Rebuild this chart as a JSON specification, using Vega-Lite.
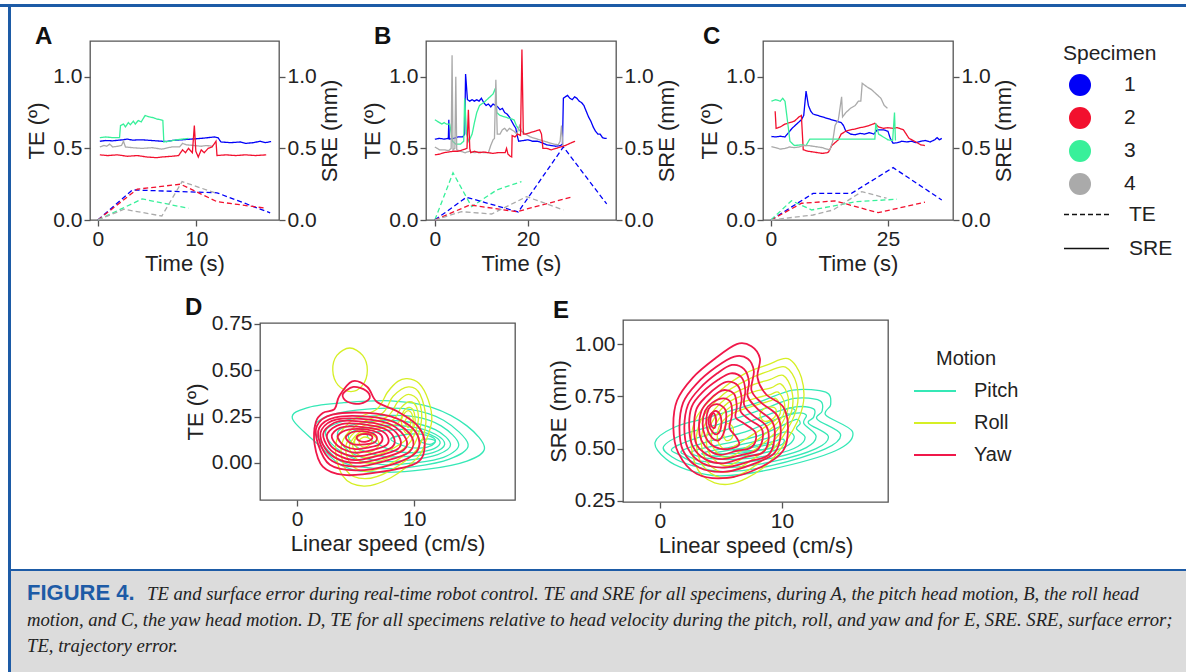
{
"$schema": "https://vega.github.io/schema/vega-lite/v6.json",
"padding": {"left": 0, "top": 4, "right": 0, "bottom": 0},
"background": "white",
"config": {
  "font": "Liberation Sans",
  "view": {"stroke": "#555555", "strokeWidth": 1.3},
  "axis": {"grid": false, "domain": false, "tickColor": "#555555", "tickWidth": 1.3, "tickSize": 6, "labelFontSize": 21, "labelColor": "#222222", "titleFontSize": 22, "titleFontWeight": "normal", "titleColor": "#222222", "labelPadding": 2, "titlePadding": 4, "labelFont": "Liberation Sans", "titleFont": "Liberation Sans", "labelFlush": false, "labelOverlap": false},
  "title": {"fontSize": 24, "fontWeight": "bold", "color": "#111111", "anchor": "start", "frame": "group", "offset": 0, "baseline": "alphabetic", "font": "Liberation Sans"},
  "legend": {"labelFont": "Liberation Sans", "titleFont": "Liberation Sans", "labelColor": "#222222", "titleColor": "#222222", "titleFontWeight": "normal", "labelFontSize": 21, "titleFontSize": 21, "padding": 0}
},
"datasets": {
  "ts": [
    {"p":"A","k":"TE","s":"1","t":0,"v":0},{"p":"A","k":"TE","s":"1","t":3.5,"v":0.21},{"p":"A","k":"TE","s":"1","t":12.1,"v":0.19},{"p":"A","k":"TE","s":"1","t":17.5,"v":0.05},
    {"p":"A","k":"TE","s":"2","t":0,"v":0},{"p":"A","k":"TE","s":"2","t":4.0,"v":0.215},{"p":"A","k":"TE","s":"2","t":8.4,"v":0.25},{"p":"A","k":"TE","s":"2","t":12.1,"v":0.128},{"p":"A","k":"TE","s":"2","t":17.1,"v":0.082},
    {"p":"A","k":"TE","s":"3","t":0,"v":0},{"p":"A","k":"TE","s":"3","t":4.5,"v":0.147},{"p":"A","k":"TE","s":"3","t":9.2,"v":0.082},
    {"p":"A","k":"TE","s":"4","t":0,"v":0},{"p":"A","k":"TE","s":"4","t":2.66,"v":0.075},{"p":"A","k":"TE","s":"4","t":6.5,"v":0.028},{"p":"A","k":"TE","s":"4","t":8.55,"v":0.268},{"p":"A","k":"TE","s":"4","t":11.9,"v":0.19},
    {"p":"A","k":"SRE","s":"1","t":0.2,"v":0.55},{"p":"A","k":"SRE","s":"1","t":0.8,"v":0.555},{"p":"A","k":"SRE","s":"1","t":1.5,"v":0.553},{"p":"A","k":"SRE","s":"1","t":2.5,"v":0.56},{"p":"A","k":"SRE","s":"1","t":3,"v":0.565},{"p":"A","k":"SRE","s":"1","t":3.5,"v":0.558},{"p":"A","k":"SRE","s":"1","t":4.5,"v":0.56},{"p":"A","k":"SRE","s":"1","t":5.5,"v":0.555},{"p":"A","k":"SRE","s":"1","t":6.5,"v":0.55},{"p":"A","k":"SRE","s":"1","t":7,"v":0.548},{"p":"A","k":"SRE","s":"1","t":7.5,"v":0.555},{"p":"A","k":"SRE","s":"1","t":8.5,"v":0.56},{"p":"A","k":"SRE","s":"1","t":9.5,"v":0.565},{"p":"A","k":"SRE","s":"1","t":10.5,"v":0.57},{"p":"A","k":"SRE","s":"1","t":11.2,"v":0.575},{"p":"A","k":"SRE","s":"1","t":11.8,"v":0.58},{"p":"A","k":"SRE","s":"1","t":12.2,"v":0.575},{"p":"A","k":"SRE","s":"1","t":12.5,"v":0.545},{"p":"A","k":"SRE","s":"1","t":13.5,"v":0.54},{"p":"A","k":"SRE","s":"1","t":14.5,"v":0.545},{"p":"A","k":"SRE","s":"1","t":15,"v":0.535},{"p":"A","k":"SRE","s":"1","t":15.8,"v":0.54},{"p":"A","k":"SRE","s":"1","t":16.5,"v":0.55},{"p":"A","k":"SRE","s":"1","t":17,"v":0.54},{"p":"A","k":"SRE","s":"1","t":17.6,"v":0.548},
    {"p":"A","k":"SRE","s":"3","t":0.2,"v":0.575},{"p":"A","k":"SRE","s":"3","t":0.8,"v":0.58},{"p":"A","k":"SRE","s":"3","t":1.5,"v":0.575},{"p":"A","k":"SRE","s":"3","t":2.2,"v":0.575},{"p":"A","k":"SRE","s":"3","t":2.3,"v":0.66},{"p":"A","k":"SRE","s":"3","t":2.6,"v":0.67},{"p":"A","k":"SRE","s":"3","t":2.8,"v":0.65},{"p":"A","k":"SRE","s":"3","t":3.1,"v":0.68},{"p":"A","k":"SRE","s":"3","t":3.3,"v":0.665},{"p":"A","k":"SRE","s":"3","t":3.6,"v":0.69},{"p":"A","k":"SRE","s":"3","t":3.8,"v":0.67},{"p":"A","k":"SRE","s":"3","t":4.1,"v":0.695},{"p":"A","k":"SRE","s":"3","t":4.4,"v":0.685},{"p":"A","k":"SRE","s":"3","t":4.8,"v":0.73},{"p":"A","k":"SRE","s":"3","t":5.2,"v":0.72},{"p":"A","k":"SRE","s":"3","t":5.6,"v":0.715},{"p":"A","k":"SRE","s":"3","t":6,"v":0.705},{"p":"A","k":"SRE","s":"3","t":6.4,"v":0.7},{"p":"A","k":"SRE","s":"3","t":6.6,"v":0.695},{"p":"A","k":"SRE","s":"3","t":6.7,"v":0.545},{"p":"A","k":"SRE","s":"3","t":7.2,"v":0.55},{"p":"A","k":"SRE","s":"3","t":8,"v":0.56},{"p":"A","k":"SRE","s":"3","t":8.6,"v":0.565},{"p":"A","k":"SRE","s":"3","t":9.2,"v":0.57},
    {"p":"A","k":"SRE","s":"4","t":0.2,"v":0.51},{"p":"A","k":"SRE","s":"4","t":0.6,"v":0.52},{"p":"A","k":"SRE","s":"4","t":0.9,"v":0.515},{"p":"A","k":"SRE","s":"4","t":1.2,"v":0.53},{"p":"A","k":"SRE","s":"4","t":1.5,"v":0.51},{"p":"A","k":"SRE","s":"4","t":2,"v":0.515},{"p":"A","k":"SRE","s":"4","t":2.4,"v":0.52},{"p":"A","k":"SRE","s":"4","t":2.6,"v":0.55},{"p":"A","k":"SRE","s":"4","t":2.8,"v":0.51},{"p":"A","k":"SRE","s":"4","t":3.5,"v":0.505},{"p":"A","k":"SRE","s":"4","t":4.5,"v":0.5},{"p":"A","k":"SRE","s":"4","t":5.5,"v":0.505},{"p":"A","k":"SRE","s":"4","t":6.5,"v":0.495},{"p":"A","k":"SRE","s":"4","t":7.5,"v":0.51},{"p":"A","k":"SRE","s":"4","t":8.3,"v":0.51},{"p":"A","k":"SRE","s":"4","t":8.6,"v":0.535},{"p":"A","k":"SRE","s":"4","t":9,"v":0.525},{"p":"A","k":"SRE","s":"4","t":9.8,"v":0.52},{"p":"A","k":"SRE","s":"4","t":10.5,"v":0.515},{"p":"A","k":"SRE","s":"4","t":11,"v":0.52},{"p":"A","k":"SRE","s":"4","t":11.7,"v":0.515},
    {"p":"A","k":"SRE","s":"2","t":0.2,"v":0.455},{"p":"A","k":"SRE","s":"2","t":1,"v":0.45},{"p":"A","k":"SRE","s":"2","t":2,"v":0.455},{"p":"A","k":"SRE","s":"2","t":3,"v":0.445},{"p":"A","k":"SRE","s":"2","t":4,"v":0.45},{"p":"A","k":"SRE","s":"2","t":5,"v":0.44},{"p":"A","k":"SRE","s":"2","t":6,"v":0.435},{"p":"A","k":"SRE","s":"2","t":6.5,"v":0.44},{"p":"A","k":"SRE","s":"2","t":7.5,"v":0.445},{"p":"A","k":"SRE","s":"2","t":8.2,"v":0.45},{"p":"A","k":"SRE","s":"2","t":8.6,"v":0.49},{"p":"A","k":"SRE","s":"2","t":8.9,"v":0.47},{"p":"A","k":"SRE","s":"2","t":9.2,"v":0.5},{"p":"A","k":"SRE","s":"2","t":9.6,"v":0.47},{"p":"A","k":"SRE","s":"2","t":9.8,"v":0.66},{"p":"A","k":"SRE","s":"2","t":9.95,"v":0.48},{"p":"A","k":"SRE","s":"2","t":10.2,"v":0.44},{"p":"A","k":"SRE","s":"2","t":10.5,"v":0.49},{"p":"A","k":"SRE","s":"2","t":10.8,"v":0.47},{"p":"A","k":"SRE","s":"2","t":11.2,"v":0.5},{"p":"A","k":"SRE","s":"2","t":11.6,"v":0.51},{"p":"A","k":"SRE","s":"2","t":12,"v":0.55},{"p":"A","k":"SRE","s":"2","t":12.1,"v":0.45},{"p":"A","k":"SRE","s":"2","t":13,"v":0.455},{"p":"A","k":"SRE","s":"2","t":14,"v":0.45},{"p":"A","k":"SRE","s":"2","t":15,"v":0.455},{"p":"A","k":"SRE","s":"2","t":16,"v":0.45},{"p":"A","k":"SRE","s":"2","t":17.1,"v":0.455},

    {"p":"B","k":"TE","s":"3","t":0,"v":0},{"p":"B","k":"TE","s":"3","t":3.9,"v":0.33},{"p":"B","k":"TE","s":"3","t":7.9,"v":0.093},{"p":"B","k":"TE","s":"3","t":13.3,"v":0.21},{"p":"B","k":"TE","s":"3","t":18.6,"v":0.268},
    {"p":"B","k":"TE","s":"1","t":0,"v":0},{"p":"B","k":"TE","s":"1","t":6.8,"v":0.159},{"p":"B","k":"TE","s":"1","t":17.9,"v":0.056},{"p":"B","k":"TE","s":"1","t":27.6,"v":0.51},{"p":"B","k":"TE","s":"1","t":36.9,"v":0.112},
    {"p":"B","k":"TE","s":"2","t":0,"v":0},{"p":"B","k":"TE","s":"2","t":7.5,"v":0.105},{"p":"B","k":"TE","s":"2","t":17.6,"v":0.058},{"p":"B","k":"TE","s":"2","t":29.7,"v":0.163},
    {"p":"B","k":"TE","s":"4","t":0,"v":0},{"p":"B","k":"TE","s":"4","t":5.7,"v":0.058},{"p":"B","k":"TE","s":"4","t":12.2,"v":0.042},{"p":"B","k":"TE","s":"4","t":19.7,"v":0.163},{"p":"B","k":"TE","s":"4","t":27.6,"v":0.07},
    {"p":"B","k":"SRE","s":"1","t":0,"v":0.564},{"p":"B","k":"SRE","s":"1","t":1,"v":0.57},{"p":"B","k":"SRE","s":"1","t":2,"v":0.565},{"p":"B","k":"SRE","s":"1","t":2.9,"v":0.57},{"p":"B","k":"SRE","s":"1","t":3.0,"v":0.7},{"p":"B","k":"SRE","s":"1","t":3.1,"v":0.565},{"p":"B","k":"SRE","s":"1","t":4,"v":0.57},{"p":"B","k":"SRE","s":"1","t":5,"v":0.58},{"p":"B","k":"SRE","s":"1","t":6,"v":0.58},{"p":"B","k":"SRE","s":"1","t":6.4,"v":0.6},{"p":"B","k":"SRE","s":"1","t":6.6,"v":1.02},{"p":"B","k":"SRE","s":"1","t":7.0,"v":0.84},{"p":"B","k":"SRE","s":"1","t":7.5,"v":0.83},{"p":"B","k":"SRE","s":"1","t":8,"v":0.84},{"p":"B","k":"SRE","s":"1","t":8.5,"v":0.83},{"p":"B","k":"SRE","s":"1","t":9,"v":0.84},{"p":"B","k":"SRE","s":"1","t":9.5,"v":0.83},{"p":"B","k":"SRE","s":"1","t":10,"v":0.85},{"p":"B","k":"SRE","s":"1","t":10.5,"v":0.82},{"p":"B","k":"SRE","s":"1","t":11,"v":0.8},{"p":"B","k":"SRE","s":"1","t":11.5,"v":0.81},{"p":"B","k":"SRE","s":"1","t":12,"v":0.79},{"p":"B","k":"SRE","s":"1","t":12.5,"v":0.81},{"p":"B","k":"SRE","s":"1","t":13,"v":0.8},{"p":"B","k":"SRE","s":"1","t":13.5,"v":0.79},{"p":"B","k":"SRE","s":"1","t":14,"v":0.77},{"p":"B","k":"SRE","s":"1","t":14.5,"v":0.78},{"p":"B","k":"SRE","s":"1","t":15,"v":0.75},{"p":"B","k":"SRE","s":"1","t":15.5,"v":0.74},{"p":"B","k":"SRE","s":"1","t":16,"v":0.72},{"p":"B","k":"SRE","s":"1","t":16.5,"v":0.69},{"p":"B","k":"SRE","s":"1","t":17,"v":0.66},{"p":"B","k":"SRE","s":"1","t":17.4,"v":0.64},{"p":"B","k":"SRE","s":"1","t":17.6,"v":0.6},{"p":"B","k":"SRE","s":"1","t":18,"v":0.55},{"p":"B","k":"SRE","s":"1","t":19,"v":0.555},{"p":"B","k":"SRE","s":"1","t":20,"v":0.56},{"p":"B","k":"SRE","s":"1","t":21,"v":0.55},{"p":"B","k":"SRE","s":"1","t":22,"v":0.55},{"p":"B","k":"SRE","s":"1","t":23,"v":0.54},{"p":"B","k":"SRE","s":"1","t":24,"v":0.525},{"p":"B","k":"SRE","s":"1","t":25,"v":0.52},{"p":"B","k":"SRE","s":"1","t":26,"v":0.515},{"p":"B","k":"SRE","s":"1","t":27,"v":0.52},{"p":"B","k":"SRE","s":"1","t":27.4,"v":0.53},{"p":"B","k":"SRE","s":"1","t":27.6,"v":0.85},{"p":"B","k":"SRE","s":"1","t":28,"v":0.86},{"p":"B","k":"SRE","s":"1","t":28.5,"v":0.87},{"p":"B","k":"SRE","s":"1","t":29,"v":0.85},{"p":"B","k":"SRE","s":"1","t":29.5,"v":0.84},{"p":"B","k":"SRE","s":"1","t":30,"v":0.86},{"p":"B","k":"SRE","s":"1","t":30.5,"v":0.85},{"p":"B","k":"SRE","s":"1","t":31,"v":0.83},{"p":"B","k":"SRE","s":"1","t":31.5,"v":0.82},{"p":"B","k":"SRE","s":"1","t":32,"v":0.8},{"p":"B","k":"SRE","s":"1","t":32.5,"v":0.76},{"p":"B","k":"SRE","s":"1","t":33,"v":0.72},{"p":"B","k":"SRE","s":"1","t":33.5,"v":0.69},{"p":"B","k":"SRE","s":"1","t":34,"v":0.65},{"p":"B","k":"SRE","s":"1","t":34.5,"v":0.62},{"p":"B","k":"SRE","s":"1","t":35,"v":0.6},{"p":"B","k":"SRE","s":"1","t":35.5,"v":0.6},{"p":"B","k":"SRE","s":"1","t":36,"v":0.575},{"p":"B","k":"SRE","s":"1","t":36.5,"v":0.57},{"p":"B","k":"SRE","s":"1","t":36.9,"v":0.57},
    {"p":"B","k":"SRE","s":"3","t":0,"v":0.7},{"p":"B","k":"SRE","s":"3","t":0.5,"v":0.69},{"p":"B","k":"SRE","s":"3","t":1,"v":0.68},{"p":"B","k":"SRE","s":"3","t":1.5,"v":0.67},{"p":"B","k":"SRE","s":"3","t":2,"v":0.68},{"p":"B","k":"SRE","s":"3","t":2.5,"v":0.67},{"p":"B","k":"SRE","s":"3","t":3.2,"v":0.67},{"p":"B","k":"SRE","s":"3","t":3.8,"v":0.55},{"p":"B","k":"SRE","s":"3","t":4.5,"v":0.53},{"p":"B","k":"SRE","s":"3","t":5.5,"v":0.53},{"p":"B","k":"SRE","s":"3","t":6.2,"v":0.55},{"p":"B","k":"SRE","s":"3","t":6.4,"v":0.85},{"p":"B","k":"SRE","s":"3","t":6.8,"v":0.6},{"p":"B","k":"SRE","s":"3","t":7.3,"v":0.55},{"p":"B","k":"SRE","s":"3","t":8,"v":0.6},{"p":"B","k":"SRE","s":"3","t":8.5,"v":0.68},{"p":"B","k":"SRE","s":"3","t":9,"v":0.75},{"p":"B","k":"SRE","s":"3","t":9.6,"v":0.8},{"p":"B","k":"SRE","s":"3","t":10.5,"v":0.82},{"p":"B","k":"SRE","s":"3","t":11.5,"v":0.85},{"p":"B","k":"SRE","s":"3","t":12.5,"v":0.88},{"p":"B","k":"SRE","s":"3","t":13,"v":0.92},{"p":"B","k":"SRE","s":"3","t":13.3,"v":0.75},{"p":"B","k":"SRE","s":"3","t":14,"v":0.73},{"p":"B","k":"SRE","s":"3","t":15,"v":0.72},{"p":"B","k":"SRE","s":"3","t":16,"v":0.71},{"p":"B","k":"SRE","s":"3","t":17,"v":0.7},{"p":"B","k":"SRE","s":"3","t":17.5,"v":0.66},{"p":"B","k":"SRE","s":"3","t":18.3,"v":0.62},
    {"p":"B","k":"SRE","s":"4","t":0,"v":0.51},{"p":"B","k":"SRE","s":"4","t":0.5,"v":0.5},{"p":"B","k":"SRE","s":"4","t":1,"v":0.49},{"p":"B","k":"SRE","s":"4","t":2,"v":0.49},{"p":"B","k":"SRE","s":"4","t":3,"v":0.485},{"p":"B","k":"SRE","s":"4","t":3.5,"v":0.5},{"p":"B","k":"SRE","s":"4","t":3.7,"v":1.15},{"p":"B","k":"SRE","s":"4","t":3.9,"v":0.49},{"p":"B","k":"SRE","s":"4","t":4.3,"v":0.5},{"p":"B","k":"SRE","s":"4","t":4.5,"v":1.0},{"p":"B","k":"SRE","s":"4","t":4.7,"v":0.49},{"p":"B","k":"SRE","s":"4","t":5.5,"v":0.48},{"p":"B","k":"SRE","s":"4","t":6.5,"v":0.47},{"p":"B","k":"SRE","s":"4","t":7.5,"v":0.48},{"p":"B","k":"SRE","s":"4","t":8.5,"v":0.47},{"p":"B","k":"SRE","s":"4","t":9.5,"v":0.475},{"p":"B","k":"SRE","s":"4","t":10.5,"v":0.47},{"p":"B","k":"SRE","s":"4","t":11.5,"v":0.47},{"p":"B","k":"SRE","s":"4","t":12,"v":0.52},{"p":"B","k":"SRE","s":"4","t":12.5,"v":0.56},{"p":"B","k":"SRE","s":"4","t":12.8,"v":0.57},{"p":"B","k":"SRE","s":"4","t":13.1,"v":0.98},{"p":"B","k":"SRE","s":"4","t":13.4,"v":0.6},{"p":"B","k":"SRE","s":"4","t":14,"v":0.6},{"p":"B","k":"SRE","s":"4","t":14.5,"v":0.63},{"p":"B","k":"SRE","s":"4","t":15,"v":0.64},{"p":"B","k":"SRE","s":"4","t":15.5,"v":0.62},{"p":"B","k":"SRE","s":"4","t":16,"v":0.64},{"p":"B","k":"SRE","s":"4","t":17,"v":0.62},{"p":"B","k":"SRE","s":"4","t":17.6,"v":0.6},{"p":"B","k":"SRE","s":"4","t":18.2,"v":0.66},{"p":"B","k":"SRE","s":"4","t":18.6,"v":0.62},{"p":"B","k":"SRE","s":"4","t":19.5,"v":0.6},{"p":"B","k":"SRE","s":"4","t":20.5,"v":0.58},{"p":"B","k":"SRE","s":"4","t":21.5,"v":0.57},{"p":"B","k":"SRE","s":"4","t":22.5,"v":0.56},{"p":"B","k":"SRE","s":"4","t":23.5,"v":0.55},{"p":"B","k":"SRE","s":"4","t":24.5,"v":0.54},{"p":"B","k":"SRE","s":"4","t":25.5,"v":0.53},{"p":"B","k":"SRE","s":"4","t":26.5,"v":0.525},{"p":"B","k":"SRE","s":"4","t":26.9,"v":0.55},{"p":"B","k":"SRE","s":"4","t":27.2,"v":0.66},{"p":"B","k":"SRE","s":"4","t":27.5,"v":0.52},
    {"p":"B","k":"SRE","s":"2","t":0,"v":0.455},{"p":"B","k":"SRE","s":"2","t":1,"v":0.46},{"p":"B","k":"SRE","s":"2","t":2,"v":0.47},{"p":"B","k":"SRE","s":"2","t":3,"v":0.475},{"p":"B","k":"SRE","s":"2","t":4,"v":0.48},{"p":"B","k":"SRE","s":"2","t":5,"v":0.48},{"p":"B","k":"SRE","s":"2","t":6,"v":0.49},{"p":"B","k":"SRE","s":"2","t":6.9,"v":0.5},{"p":"B","k":"SRE","s":"2","t":7.2,"v":0.77},{"p":"B","k":"SRE","s":"2","t":7.5,"v":0.5},{"p":"B","k":"SRE","s":"2","t":7.7,"v":0.47},{"p":"B","k":"SRE","s":"2","t":8.5,"v":0.48},{"p":"B","k":"SRE","s":"2","t":9.5,"v":0.47},{"p":"B","k":"SRE","s":"2","t":10.5,"v":0.475},{"p":"B","k":"SRE","s":"2","t":11.5,"v":0.47},{"p":"B","k":"SRE","s":"2","t":12.5,"v":0.465},{"p":"B","k":"SRE","s":"2","t":13.5,"v":0.47},{"p":"B","k":"SRE","s":"2","t":14.5,"v":0.47},{"p":"B","k":"SRE","s":"2","t":15.1,"v":0.47},{"p":"B","k":"SRE","s":"2","t":15.4,"v":0.5},{"p":"B","k":"SRE","s":"2","t":15.7,"v":0.46},{"p":"B","k":"SRE","s":"2","t":16.2,"v":0.445},{"p":"B","k":"SRE","s":"2","t":16.5,"v":0.44},{"p":"B","k":"SRE","s":"2","t":16.6,"v":0.59},{"p":"B","k":"SRE","s":"2","t":17.2,"v":0.58},{"p":"B","k":"SRE","s":"2","t":17.8,"v":0.6},{"p":"B","k":"SRE","s":"2","t":18.4,"v":0.59},{"p":"B","k":"SRE","s":"2","t":18.7,"v":1.19},{"p":"B","k":"SRE","s":"2","t":19.0,"v":0.6},{"p":"B","k":"SRE","s":"2","t":19.5,"v":0.6},{"p":"B","k":"SRE","s":"2","t":20.5,"v":0.61},{"p":"B","k":"SRE","s":"2","t":21.5,"v":0.62},{"p":"B","k":"SRE","s":"2","t":22.5,"v":0.63},{"p":"B","k":"SRE","s":"2","t":22.9,"v":0.6},{"p":"B","k":"SRE","s":"2","t":23.2,"v":0.5},{"p":"B","k":"SRE","s":"2","t":24,"v":0.5},{"p":"B","k":"SRE","s":"2","t":25,"v":0.49},{"p":"B","k":"SRE","s":"2","t":26,"v":0.5},{"p":"B","k":"SRE","s":"2","t":27,"v":0.51},{"p":"B","k":"SRE","s":"2","t":28,"v":0.52},{"p":"B","k":"SRE","s":"2","t":29,"v":0.535},{"p":"B","k":"SRE","s":"2","t":30.1,"v":0.55},

    {"p":"C","k":"TE","s":"1","t":0,"v":0},{"p":"C","k":"TE","s":"1","t":9,"v":0.186},{"p":"C","k":"TE","s":"1","t":17.2,"v":0.186},{"p":"C","k":"TE","s":"1","t":26.1,"v":0.366},{"p":"C","k":"TE","s":"1","t":36.5,"v":0.14},
    {"p":"C","k":"TE","s":"2","t":0,"v":0},{"p":"C","k":"TE","s":"2","t":6.55,"v":0.117},{"p":"C","k":"TE","s":"2","t":13.7,"v":0.133},{"p":"C","k":"TE","s":"2","t":22.9,"v":0.051},{"p":"C","k":"TE","s":"2","t":32.9,"v":0.124},
    {"p":"C","k":"TE","s":"3","t":0,"v":0},{"p":"C","k":"TE","s":"3","t":4.4,"v":0.135},{"p":"C","k":"TE","s":"3","t":8.7,"v":0.07},{"p":"C","k":"TE","s":"3","t":18.3,"v":0.128},{"p":"C","k":"TE","s":"3","t":26.9,"v":0.145},
    {"p":"C","k":"TE","s":"4","t":0,"v":0},{"p":"C","k":"TE","s":"4","t":9,"v":0.035},{"p":"C","k":"TE","s":"4","t":13.3,"v":0.07},{"p":"C","k":"TE","s":"4","t":19.4,"v":0.198},{"p":"C","k":"TE","s":"4","t":24.7,"v":0.152},
    {"p":"C","k":"SRE","s":"1","t":0.1,"v":0.583},{"p":"C","k":"SRE","s":"1","t":1,"v":0.58},{"p":"C","k":"SRE","s":"1","t":2,"v":0.585},{"p":"C","k":"SRE","s":"1","t":3,"v":0.58},{"p":"C","k":"SRE","s":"1","t":3.5,"v":0.6},{"p":"C","k":"SRE","s":"1","t":4.5,"v":0.64},{"p":"C","k":"SRE","s":"1","t":5.5,"v":0.67},{"p":"C","k":"SRE","s":"1","t":6.5,"v":0.7},{"p":"C","k":"SRE","s":"1","t":7.0,"v":0.73},{"p":"C","k":"SRE","s":"1","t":7.5,"v":0.9},{"p":"C","k":"SRE","s":"1","t":8.0,"v":0.8},{"p":"C","k":"SRE","s":"1","t":8.5,"v":0.76},{"p":"C","k":"SRE","s":"1","t":9,"v":0.74},{"p":"C","k":"SRE","s":"1","t":10,"v":0.73},{"p":"C","k":"SRE","s":"1","t":11,"v":0.72},{"p":"C","k":"SRE","s":"1","t":12,"v":0.71},{"p":"C","k":"SRE","s":"1","t":13,"v":0.7},{"p":"C","k":"SRE","s":"1","t":14,"v":0.69},{"p":"C","k":"SRE","s":"1","t":15,"v":0.68},{"p":"C","k":"SRE","s":"1","t":15.5,"v":0.66},{"p":"C","k":"SRE","s":"1","t":16,"v":0.62},{"p":"C","k":"SRE","s":"1","t":17,"v":0.6},{"p":"C","k":"SRE","s":"1","t":18,"v":0.595},{"p":"C","k":"SRE","s":"1","t":19,"v":0.605},{"p":"C","k":"SRE","s":"1","t":20,"v":0.6},{"p":"C","k":"SRE","s":"1","t":21,"v":0.61},{"p":"C","k":"SRE","s":"1","t":22,"v":0.6},{"p":"C","k":"SRE","s":"1","t":22.7,"v":0.63},{"p":"C","k":"SRE","s":"1","t":24,"v":0.63},{"p":"C","k":"SRE","s":"1","t":25,"v":0.62},{"p":"C","k":"SRE","s":"1","t":25.5,"v":0.57},{"p":"C","k":"SRE","s":"1","t":26.1,"v":0.536},{"p":"C","k":"SRE","s":"1","t":27,"v":0.54},{"p":"C","k":"SRE","s":"1","t":28,"v":0.55},{"p":"C","k":"SRE","s":"1","t":29,"v":0.545},{"p":"C","k":"SRE","s":"1","t":30,"v":0.55},{"p":"C","k":"SRE","s":"1","t":31,"v":0.54},{"p":"C","k":"SRE","s":"1","t":32,"v":0.55},{"p":"C","k":"SRE","s":"1","t":33,"v":0.555},{"p":"C","k":"SRE","s":"1","t":34,"v":0.545},{"p":"C","k":"SRE","s":"1","t":35,"v":0.56},{"p":"C","k":"SRE","s":"1","t":35.5,"v":0.575},{"p":"C","k":"SRE","s":"1","t":36,"v":0.56},{"p":"C","k":"SRE","s":"1","t":36.5,"v":0.57},
    {"p":"C","k":"SRE","s":"2","t":0.9,"v":0.76},{"p":"C","k":"SRE","s":"2","t":1.1,"v":0.64},{"p":"C","k":"SRE","s":"2","t":2,"v":0.65},{"p":"C","k":"SRE","s":"2","t":3,"v":0.67},{"p":"C","k":"SRE","s":"2","t":4,"v":0.68},{"p":"C","k":"SRE","s":"2","t":5,"v":0.69},{"p":"C","k":"SRE","s":"2","t":6,"v":0.72},{"p":"C","k":"SRE","s":"2","t":6.5,"v":0.73},{"p":"C","k":"SRE","s":"2","t":6.9,"v":0.49},{"p":"C","k":"SRE","s":"2","t":8,"v":0.48},{"p":"C","k":"SRE","s":"2","t":9,"v":0.475},{"p":"C","k":"SRE","s":"2","t":10,"v":0.47},{"p":"C","k":"SRE","s":"2","t":11,"v":0.465},{"p":"C","k":"SRE","s":"2","t":12,"v":0.47},{"p":"C","k":"SRE","s":"2","t":12.3,"v":0.475},{"p":"C","k":"SRE","s":"2","t":13,"v":0.52},{"p":"C","k":"SRE","s":"2","t":14.4,"v":0.56},{"p":"C","k":"SRE","s":"2","t":15,"v":0.6},{"p":"C","k":"SRE","s":"2","t":16,"v":0.62},{"p":"C","k":"SRE","s":"2","t":17,"v":0.63},{"p":"C","k":"SRE","s":"2","t":18,"v":0.635},{"p":"C","k":"SRE","s":"2","t":19,"v":0.645},{"p":"C","k":"SRE","s":"2","t":20,"v":0.65},{"p":"C","k":"SRE","s":"2","t":21,"v":0.66},{"p":"C","k":"SRE","s":"2","t":22.2,"v":0.675},{"p":"C","k":"SRE","s":"2","t":23,"v":0.65},{"p":"C","k":"SRE","s":"2","t":24,"v":0.64},{"p":"C","k":"SRE","s":"2","t":25,"v":0.645},{"p":"C","k":"SRE","s":"2","t":26,"v":0.64},{"p":"C","k":"SRE","s":"2","t":27,"v":0.645},{"p":"C","k":"SRE","s":"2","t":28.3,"v":0.63},{"p":"C","k":"SRE","s":"2","t":29.5,"v":0.57},{"p":"C","k":"SRE","s":"2","t":30.8,"v":0.548},{"p":"C","k":"SRE","s":"2","t":32,"v":0.525},{"p":"C","k":"SRE","s":"2","t":32.9,"v":0.52},
    {"p":"C","k":"SRE","s":"3","t":0.1,"v":0.83},{"p":"C","k":"SRE","s":"3","t":1,"v":0.84},{"p":"C","k":"SRE","s":"3","t":2,"v":0.83},{"p":"C","k":"SRE","s":"3","t":2.5,"v":0.85},{"p":"C","k":"SRE","s":"3","t":3,"v":0.83},{"p":"C","k":"SRE","s":"3","t":3.5,"v":0.7},{"p":"C","k":"SRE","s":"3","t":4.06,"v":0.55},{"p":"C","k":"SRE","s":"3","t":5,"v":0.52},{"p":"C","k":"SRE","s":"3","t":6.5,"v":0.525},{"p":"C","k":"SRE","s":"3","t":7.5,"v":0.52},{"p":"C","k":"SRE","s":"3","t":8.3,"v":0.565},{"p":"C","k":"SRE","s":"3","t":12,"v":0.565},{"p":"C","k":"SRE","s":"3","t":16,"v":0.565},{"p":"C","k":"SRE","s":"3","t":20,"v":0.565},{"p":"C","k":"SRE","s":"3","t":22.2,"v":0.565},{"p":"C","k":"SRE","s":"3","t":22.4,"v":0.675},{"p":"C","k":"SRE","s":"3","t":23,"v":0.6},{"p":"C","k":"SRE","s":"3","t":24,"v":0.58},{"p":"C","k":"SRE","s":"3","t":25,"v":0.56},{"p":"C","k":"SRE","s":"3","t":26,"v":0.555},{"p":"C","k":"SRE","s":"3","t":26.4,"v":0.75},{"p":"C","k":"SRE","s":"3","t":26.6,"v":0.555},
    {"p":"C","k":"SRE","s":"4","t":0.1,"v":0.513},{"p":"C","k":"SRE","s":"4","t":1,"v":0.505},{"p":"C","k":"SRE","s":"4","t":2,"v":0.495},{"p":"C","k":"SRE","s":"4","t":3,"v":0.5},{"p":"C","k":"SRE","s":"4","t":4,"v":0.51},{"p":"C","k":"SRE","s":"4","t":5,"v":0.505},{"p":"C","k":"SRE","s":"4","t":6,"v":0.51},{"p":"C","k":"SRE","s":"4","t":7,"v":0.52},{"p":"C","k":"SRE","s":"4","t":8,"v":0.52},{"p":"C","k":"SRE","s":"4","t":9,"v":0.515},{"p":"C","k":"SRE","s":"4","t":10,"v":0.51},{"p":"C","k":"SRE","s":"4","t":11,"v":0.505},{"p":"C","k":"SRE","s":"4","t":11.9,"v":0.495},{"p":"C","k":"SRE","s":"4","t":12.6,"v":0.49},{"p":"C","k":"SRE","s":"4","t":13.2,"v":0.55},{"p":"C","k":"SRE","s":"4","t":13.7,"v":0.66},{"p":"C","k":"SRE","s":"4","t":14.4,"v":0.7},{"p":"C","k":"SRE","s":"4","t":15.1,"v":0.86},{"p":"C","k":"SRE","s":"4","t":15.3,"v":0.72},{"p":"C","k":"SRE","s":"4","t":16,"v":0.75},{"p":"C","k":"SRE","s":"4","t":17,"v":0.78},{"p":"C","k":"SRE","s":"4","t":18,"v":0.8},{"p":"C","k":"SRE","s":"4","t":18.7,"v":0.83},{"p":"C","k":"SRE","s":"4","t":19.2,"v":0.83},{"p":"C","k":"SRE","s":"4","t":19.5,"v":0.955},{"p":"C","k":"SRE","s":"4","t":20.5,"v":0.93},{"p":"C","k":"SRE","s":"4","t":21.5,"v":0.91},{"p":"C","k":"SRE","s":"4","t":22.5,"v":0.88},{"p":"C","k":"SRE","s":"4","t":23.5,"v":0.85},{"p":"C","k":"SRE","s":"4","t":24.2,"v":0.8},{"p":"C","k":"SRE","s":"4","t":24.9,"v":0.78}
  ],
  "ct": [
    {"p":"D","m":"Pitch","r":"DP1","x":-0.4,"y":0.24},{"p":"D","m":"Pitch","r":"DP1","x":1,"y":0.3},{"p":"D","m":"Pitch","r":"DP1","x":4,"y":0.325},{"p":"D","m":"Pitch","r":"DP1","x":8,"y":0.335},{"p":"D","m":"Pitch","r":"DP1","x":11.5,"y":0.3},{"p":"D","m":"Pitch","r":"DP1","x":14.5,"y":0.2},{"p":"D","m":"Pitch","r":"DP1","x":16,"y":0.08},{"p":"D","m":"Pitch","r":"DP1","x":14.5,"y":0.01},{"p":"D","m":"Pitch","r":"DP1","x":11,"y":-0.035},{"p":"D","m":"Pitch","r":"DP1","x":7,"y":-0.05},{"p":"D","m":"Pitch","r":"DP1","x":4,"y":-0.02},{"p":"D","m":"Pitch","r":"DP1","x":1.8,"y":0.1},
    {"p":"D","m":"Pitch","r":"DP2","x":1.5,"y":0.2},{"p":"D","m":"Pitch","r":"DP2","x":3,"y":0.26},{"p":"D","m":"Pitch","r":"DP2","x":6,"y":0.29},{"p":"D","m":"Pitch","r":"DP2","x":9.5,"y":0.29},{"p":"D","m":"Pitch","r":"DP2","x":12.5,"y":0.23},{"p":"D","m":"Pitch","r":"DP2","x":14.6,"y":0.1},{"p":"D","m":"Pitch","r":"DP2","x":13,"y":0.02},{"p":"D","m":"Pitch","r":"DP2","x":10,"y":-0.02},{"p":"D","m":"Pitch","r":"DP2","x":7,"y":-0.03},{"p":"D","m":"Pitch","r":"DP2","x":4,"y":0.0},{"p":"D","m":"Pitch","r":"DP2","x":2.2,"y":0.1},
    {"p":"D","m":"Pitch","r":"DP3","x":2.5,"y":0.18},{"p":"D","m":"Pitch","r":"DP3","x":4.5,"y":0.235},{"p":"D","m":"Pitch","r":"DP3","x":7,"y":0.255},{"p":"D","m":"Pitch","r":"DP3","x":10,"y":0.25},{"p":"D","m":"Pitch","r":"DP3","x":12.3,"y":0.2},{"p":"D","m":"Pitch","r":"DP3","x":13.8,"y":0.1},{"p":"D","m":"Pitch","r":"DP3","x":12.5,"y":0.03},{"p":"D","m":"Pitch","r":"DP3","x":10,"y":0.0},{"p":"D","m":"Pitch","r":"DP3","x":7.5,"y":-0.01},{"p":"D","m":"Pitch","r":"DP3","x":5,"y":0.02},{"p":"D","m":"Pitch","r":"DP3","x":3,"y":0.1},
    {"p":"D","m":"Pitch","r":"DP4","x":3.5,"y":0.17},{"p":"D","m":"Pitch","r":"DP4","x":6,"y":0.22},{"p":"D","m":"Pitch","r":"DP4","x":9,"y":0.225},{"p":"D","m":"Pitch","r":"DP4","x":11.8,"y":0.18},{"p":"D","m":"Pitch","r":"DP4","x":13.1,"y":0.1},{"p":"D","m":"Pitch","r":"DP4","x":12,"y":0.045},{"p":"D","m":"Pitch","r":"DP4","x":9.5,"y":0.015},{"p":"D","m":"Pitch","r":"DP4","x":7,"y":0.01},{"p":"D","m":"Pitch","r":"DP4","x":4.5,"y":0.06},
    {"p":"D","m":"Pitch","r":"DP5","x":4.5,"y":0.16},{"p":"D","m":"Pitch","r":"DP5","x":7,"y":0.2},{"p":"D","m":"Pitch","r":"DP5","x":9.8,"y":0.195},{"p":"D","m":"Pitch","r":"DP5","x":11.8,"y":0.155},{"p":"D","m":"Pitch","r":"DP5","x":12.6,"y":0.1},{"p":"D","m":"Pitch","r":"DP5","x":11.6,"y":0.055},{"p":"D","m":"Pitch","r":"DP5","x":9.5,"y":0.035},{"p":"D","m":"Pitch","r":"DP5","x":7,"y":0.04},{"p":"D","m":"Pitch","r":"DP5","x":5,"y":0.09},
    {"p":"D","m":"Pitch","r":"DP6","x":6,"y":0.15},{"p":"D","m":"Pitch","r":"DP6","x":8.5,"y":0.18},{"p":"D","m":"Pitch","r":"DP6","x":10.5,"y":0.17},{"p":"D","m":"Pitch","r":"DP6","x":11.8,"y":0.14},{"p":"D","m":"Pitch","r":"DP6","x":12.2,"y":0.105},{"p":"D","m":"Pitch","r":"DP6","x":11.4,"y":0.07},{"p":"D","m":"Pitch","r":"DP6","x":9.8,"y":0.055},{"p":"D","m":"Pitch","r":"DP6","x":7.8,"y":0.075},
    {"p":"D","m":"Pitch","r":"DP7","x":8,"y":0.13},{"p":"D","m":"Pitch","r":"DP7","x":9.6,"y":0.155},{"p":"D","m":"Pitch","r":"DP7","x":11,"y":0.15},{"p":"D","m":"Pitch","r":"DP7","x":11.8,"y":0.125},{"p":"D","m":"Pitch","r":"DP7","x":11.5,"y":0.095},{"p":"D","m":"Pitch","r":"DP7","x":10.5,"y":0.08},{"p":"D","m":"Pitch","r":"DP7","x":9.2,"y":0.09},
    {"p":"D","m":"Pitch","r":"DP8","x":10.5,"y":0.118},{"p":"D","m":"Pitch","r":"DP8","x":11.2,"y":0.13},{"p":"D","m":"Pitch","r":"DP8","x":11.8,"y":0.118},{"p":"D","m":"Pitch","r":"DP8","x":11.3,"y":0.1},

    {"p":"D","m":"Roll","r":"DRi","x":3.05,"y":0.5},{"p":"D","m":"Roll","r":"DRi","x":3.4,"y":0.58},{"p":"D","m":"Roll","r":"DRi","x":4.5,"y":0.62},{"p":"D","m":"Roll","r":"DRi","x":5.6,"y":0.58},{"p":"D","m":"Roll","r":"DRi","x":6.0,"y":0.5},{"p":"D","m":"Roll","r":"DRi","x":5.6,"y":0.42},{"p":"D","m":"Roll","r":"DRi","x":4.6,"y":0.385},{"p":"D","m":"Roll","r":"DRi","x":3.5,"y":0.42},
    {"p":"D","m":"Roll","r":"DR1","x":3.3,"y":0.1},{"p":"D","m":"Roll","r":"DR1","x":4.5,"y":0.22},{"p":"D","m":"Roll","r":"DR1","x":6.8,"y":0.29},{"p":"D","m":"Roll","r":"DR1","x":7.7,"y":0.38},{"p":"D","m":"Roll","r":"DR1","x":8.6,"y":0.44},{"p":"D","m":"Roll","r":"DR1","x":9.4,"y":0.455},{"p":"D","m":"Roll","r":"DR1","x":10.4,"y":0.43},{"p":"D","m":"Roll","r":"DR1","x":11.2,"y":0.34},{"p":"D","m":"Roll","r":"DR1","x":11.5,"y":0.23},{"p":"D","m":"Roll","r":"DR1","x":11.0,"y":0.12},{"p":"D","m":"Roll","r":"DR1","x":10.3,"y":0.03},{"p":"D","m":"Roll","r":"DR1","x":8,"y":-0.08},{"p":"D","m":"Roll","r":"DR1","x":5.7,"y":-0.125},{"p":"D","m":"Roll","r":"DR1","x":3.9,"y":-0.07},
    {"p":"D","m":"Roll","r":"DR2","x":3.8,"y":0.1},{"p":"D","m":"Roll","r":"DR2","x":5,"y":0.2},{"p":"D","m":"Roll","r":"DR2","x":7.3,"y":0.27},{"p":"D","m":"Roll","r":"DR2","x":8.2,"y":0.36},{"p":"D","m":"Roll","r":"DR2","x":9.5,"y":0.41},{"p":"D","m":"Roll","r":"DR2","x":10.5,"y":0.37},{"p":"D","m":"Roll","r":"DR2","x":11,"y":0.22},{"p":"D","m":"Roll","r":"DR2","x":10.2,"y":0.07},{"p":"D","m":"Roll","r":"DR2","x":8,"y":-0.04},{"p":"D","m":"Roll","r":"DR2","x":5.8,"y":-0.085},{"p":"D","m":"Roll","r":"DR2","x":4.2,"y":-0.04},
    {"p":"D","m":"Roll","r":"DR3","x":4.2,"y":0.1},{"p":"D","m":"Roll","r":"DR3","x":5.4,"y":0.19},{"p":"D","m":"Roll","r":"DR3","x":7.7,"y":0.25},{"p":"D","m":"Roll","r":"DR3","x":8.6,"y":0.33},{"p":"D","m":"Roll","r":"DR3","x":9.5,"y":0.37},{"p":"D","m":"Roll","r":"DR3","x":10.4,"y":0.33},{"p":"D","m":"Roll","r":"DR3","x":10.6,"y":0.22},{"p":"D","m":"Roll","r":"DR3","x":9.8,"y":0.08},{"p":"D","m":"Roll","r":"DR3","x":7.8,"y":-0.01},{"p":"D","m":"Roll","r":"DR3","x":5.8,"y":-0.045},{"p":"D","m":"Roll","r":"DR3","x":4.5,"y":0.0},
    {"p":"D","m":"Roll","r":"DR4","x":4.5,"y":0.1},{"p":"D","m":"Roll","r":"DR4","x":5.7,"y":0.18},{"p":"D","m":"Roll","r":"DR4","x":8.1,"y":0.23},{"p":"D","m":"Roll","r":"DR4","x":8.9,"y":0.3},{"p":"D","m":"Roll","r":"DR4","x":9.6,"y":0.33},{"p":"D","m":"Roll","r":"DR4","x":10.2,"y":0.3},{"p":"D","m":"Roll","r":"DR4","x":10.3,"y":0.21},{"p":"D","m":"Roll","r":"DR4","x":9.5,"y":0.1},{"p":"D","m":"Roll","r":"DR4","x":7.5,"y":0.02},{"p":"D","m":"Roll","r":"DR4","x":5.8,"y":0.0},{"p":"D","m":"Roll","r":"DR4","x":4.8,"y":0.04},
    {"p":"D","m":"Roll","r":"DR5","x":4.8,"y":0.11},{"p":"D","m":"Roll","r":"DR5","x":6,"y":0.17},{"p":"D","m":"Roll","r":"DR5","x":8.5,"y":0.21},{"p":"D","m":"Roll","r":"DR5","x":9.1,"y":0.28},{"p":"D","m":"Roll","r":"DR5","x":9.6,"y":0.3},{"p":"D","m":"Roll","r":"DR5","x":10.0,"y":0.27},{"p":"D","m":"Roll","r":"DR5","x":10.0,"y":0.2},{"p":"D","m":"Roll","r":"DR5","x":9.2,"y":0.12},{"p":"D","m":"Roll","r":"DR5","x":7.2,"y":0.05},{"p":"D","m":"Roll","r":"DR5","x":5.8,"y":0.03},{"p":"D","m":"Roll","r":"DR5","x":5.0,"y":0.06},
    {"p":"D","m":"Roll","r":"DR6","x":8.9,"y":0.22},{"p":"D","m":"Roll","r":"DR6","x":9.2,"y":0.27},{"p":"D","m":"Roll","r":"DR6","x":9.6,"y":0.28},{"p":"D","m":"Roll","r":"DR6","x":9.9,"y":0.24},{"p":"D","m":"Roll","r":"DR6","x":9.8,"y":0.18},{"p":"D","m":"Roll","r":"DR6","x":9.3,"y":0.16},
    {"p":"D","m":"Roll","r":"DR7","x":9.2,"y":0.22},{"p":"D","m":"Roll","r":"DR7","x":9.5,"y":0.25},{"p":"D","m":"Roll","r":"DR7","x":9.7,"y":0.22},{"p":"D","m":"Roll","r":"DR7","x":9.5,"y":0.19},
    {"p":"D","m":"Roll","r":"DR8","x":4.9,"y":0.12},{"p":"D","m":"Roll","r":"DR8","x":5.5,"y":0.16},{"p":"D","m":"Roll","r":"DR8","x":6.5,"y":0.15},{"p":"D","m":"Roll","r":"DR8","x":7,"y":0.1},{"p":"D","m":"Roll","r":"DR8","x":6.3,"y":0.06},{"p":"D","m":"Roll","r":"DR8","x":5.3,"y":0.07},
    {"p":"D","m":"Roll","r":"DR9","x":5.3,"y":0.12},{"p":"D","m":"Roll","r":"DR9","x":5.8,"y":0.14},{"p":"D","m":"Roll","r":"DR9","x":6.4,"y":0.12},{"p":"D","m":"Roll","r":"DR9","x":6.0,"y":0.09},{"p":"D","m":"Roll","r":"DR9","x":5.5,"y":0.09},

    {"p":"D","m":"Yaw","r":"DY1","x":1.6,"y":0.22},{"p":"D","m":"Yaw","r":"DY1","x":2.2,"y":0.27},{"p":"D","m":"Yaw","r":"DY1","x":3.2,"y":0.29},{"p":"D","m":"Yaw","r":"DY1","x":3.6,"y":0.36},{"p":"D","m":"Yaw","r":"DY1","x":4.7,"y":0.44},{"p":"D","m":"Yaw","r":"DY1","x":6,"y":0.41},{"p":"D","m":"Yaw","r":"DY1","x":6.8,"y":0.33},{"p":"D","m":"Yaw","r":"DY1","x":8.5,"y":0.28},{"p":"D","m":"Yaw","r":"DY1","x":10.3,"y":0.2},{"p":"D","m":"Yaw","r":"DY1","x":10.9,"y":0.1},{"p":"D","m":"Yaw","r":"DY1","x":10.2,"y":0.0},{"p":"D","m":"Yaw","r":"DY1","x":7,"y":-0.05},{"p":"D","m":"Yaw","r":"DY1","x":4,"y":-0.065},{"p":"D","m":"Yaw","r":"DY1","x":2.2,"y":-0.02},{"p":"D","m":"Yaw","r":"DY1","x":1.5,"y":0.1},
    {"p":"D","m":"Yaw","r":"DYi","x":3.9,"y":0.37},{"p":"D","m":"Yaw","r":"DYi","x":4.8,"y":0.41},{"p":"D","m":"Yaw","r":"DYi","x":5.9,"y":0.39},{"p":"D","m":"Yaw","r":"DYi","x":6.2,"y":0.35},{"p":"D","m":"Yaw","r":"DYi","x":5.4,"y":0.32},{"p":"D","m":"Yaw","r":"DYi","x":4.3,"y":0.33},
    {"p":"D","m":"Yaw","r":"DY2","x":1.7,"y":0.2},{"p":"D","m":"Yaw","r":"DY2","x":3,"y":0.26},{"p":"D","m":"Yaw","r":"DY2","x":6,"y":0.27},{"p":"D","m":"Yaw","r":"DY2","x":8.5,"y":0.24},{"p":"D","m":"Yaw","r":"DY2","x":10.2,"y":0.16},{"p":"D","m":"Yaw","r":"DY2","x":10.2,"y":0.06},{"p":"D","m":"Yaw","r":"DY2","x":8,"y":-0.01},{"p":"D","m":"Yaw","r":"DY2","x":5,"y":-0.04},{"p":"D","m":"Yaw","r":"DY2","x":2.8,"y":-0.01},{"p":"D","m":"Yaw","r":"DY2","x":1.8,"y":0.1},
    {"p":"D","m":"Yaw","r":"DY3","x":1.9,"y":0.19},{"p":"D","m":"Yaw","r":"DY3","x":3.2,"y":0.245},{"p":"D","m":"Yaw","r":"DY3","x":6,"y":0.25},{"p":"D","m":"Yaw","r":"DY3","x":8.3,"y":0.22},{"p":"D","m":"Yaw","r":"DY3","x":9.8,"y":0.14},{"p":"D","m":"Yaw","r":"DY3","x":9.6,"y":0.06},{"p":"D","m":"Yaw","r":"DY3","x":7.5,"y":0.01},{"p":"D","m":"Yaw","r":"DY3","x":5,"y":-0.02},{"p":"D","m":"Yaw","r":"DY3","x":3.0,"y":0.01},{"p":"D","m":"Yaw","r":"DY3","x":2.0,"y":0.1},
    {"p":"D","m":"Yaw","r":"DY4","x":2.1,"y":0.18},{"p":"D","m":"Yaw","r":"DY4","x":3.4,"y":0.235},{"p":"D","m":"Yaw","r":"DY4","x":6,"y":0.235},{"p":"D","m":"Yaw","r":"DY4","x":8.1,"y":0.205},{"p":"D","m":"Yaw","r":"DY4","x":9.3,"y":0.13},{"p":"D","m":"Yaw","r":"DY4","x":9.1,"y":0.07},{"p":"D","m":"Yaw","r":"DY4","x":7.2,"y":0.025},{"p":"D","m":"Yaw","r":"DY4","x":5,"y":0.0},{"p":"D","m":"Yaw","r":"DY4","x":3.2,"y":0.03},{"p":"D","m":"Yaw","r":"DY4","x":2.2,"y":0.1},
    {"p":"D","m":"Yaw","r":"DY5","x":2.3,"y":0.17},{"p":"D","m":"Yaw","r":"DY5","x":3.6,"y":0.225},{"p":"D","m":"Yaw","r":"DY5","x":6,"y":0.22},{"p":"D","m":"Yaw","r":"DY5","x":7.9,"y":0.19},{"p":"D","m":"Yaw","r":"DY5","x":8.8,"y":0.13},{"p":"D","m":"Yaw","r":"DY5","x":8.6,"y":0.075},{"p":"D","m":"Yaw","r":"DY5","x":7,"y":0.04},{"p":"D","m":"Yaw","r":"DY5","x":5,"y":0.015},{"p":"D","m":"Yaw","r":"DY5","x":3.4,"y":0.045},{"p":"D","m":"Yaw","r":"DY5","x":2.5,"y":0.1},
    {"p":"D","m":"Yaw","r":"DY6","x":2.6,"y":0.16},{"p":"D","m":"Yaw","r":"DY6","x":3.8,"y":0.21},{"p":"D","m":"Yaw","r":"DY6","x":6,"y":0.205},{"p":"D","m":"Yaw","r":"DY6","x":7.6,"y":0.18},{"p":"D","m":"Yaw","r":"DY6","x":8.3,"y":0.13},{"p":"D","m":"Yaw","r":"DY6","x":8.1,"y":0.085},{"p":"D","m":"Yaw","r":"DY6","x":6.8,"y":0.055},{"p":"D","m":"Yaw","r":"DY6","x":5,"y":0.035},{"p":"D","m":"Yaw","r":"DY6","x":3.6,"y":0.06},{"p":"D","m":"Yaw","r":"DY6","x":2.8,"y":0.1},
    {"p":"D","m":"Yaw","r":"DY7","x":3,"y":0.155},{"p":"D","m":"Yaw","r":"DY7","x":4,"y":0.195},{"p":"D","m":"Yaw","r":"DY7","x":6,"y":0.19},{"p":"D","m":"Yaw","r":"DY7","x":7.3,"y":0.17},{"p":"D","m":"Yaw","r":"DY7","x":7.8,"y":0.13},{"p":"D","m":"Yaw","r":"DY7","x":7.6,"y":0.095},{"p":"D","m":"Yaw","r":"DY7","x":6.5,"y":0.07},{"p":"D","m":"Yaw","r":"DY7","x":5,"y":0.055},{"p":"D","m":"Yaw","r":"DY7","x":3.9,"y":0.075},{"p":"D","m":"Yaw","r":"DY7","x":3.2,"y":0.11},
    {"p":"D","m":"Yaw","r":"DY8","x":3.5,"y":0.15},{"p":"D","m":"Yaw","r":"DY8","x":4.4,"y":0.18},{"p":"D","m":"Yaw","r":"DY8","x":6,"y":0.18},{"p":"D","m":"Yaw","r":"DY8","x":7,"y":0.16},{"p":"D","m":"Yaw","r":"DY8","x":7.3,"y":0.13},{"p":"D","m":"Yaw","r":"DY8","x":7,"y":0.1},{"p":"D","m":"Yaw","r":"DY8","x":6.2,"y":0.085},{"p":"D","m":"Yaw","r":"DY8","x":5,"y":0.075},{"p":"D","m":"Yaw","r":"DY8","x":4.1,"y":0.09},{"p":"D","m":"Yaw","r":"DY8","x":3.6,"y":0.12},
    {"p":"D","m":"Yaw","r":"DY9","x":4.2,"y":0.145},{"p":"D","m":"Yaw","r":"DY9","x":5,"y":0.17},{"p":"D","m":"Yaw","r":"DY9","x":6.2,"y":0.165},{"p":"D","m":"Yaw","r":"DY9","x":6.8,"y":0.14},{"p":"D","m":"Yaw","r":"DY9","x":6.6,"y":0.11},{"p":"D","m":"Yaw","r":"DY9","x":5.8,"y":0.1},{"p":"D","m":"Yaw","r":"DY9","x":4.8,"y":0.1},{"p":"D","m":"Yaw","r":"DY9","x":4.3,"y":0.12},
    {"p":"D","m":"Yaw","r":"DY10","x":5.1,"y":0.14},{"p":"D","m":"Yaw","r":"DY10","x":5.6,"y":0.155},{"p":"D","m":"Yaw","r":"DY10","x":6.3,"y":0.15},{"p":"D","m":"Yaw","r":"DY10","x":6.4,"y":0.13},{"p":"D","m":"Yaw","r":"DY10","x":5.9,"y":0.115},{"p":"D","m":"Yaw","r":"DY10","x":5.3,"y":0.12},

    {"p":"E","m":"Pitch","r":"EP1","x":-0.4,"y":0.53},{"p":"E","m":"Pitch","r":"EP1","x":1.1,"y":0.6},{"p":"E","m":"Pitch","r":"EP1","x":4,"y":0.65},{"p":"E","m":"Pitch","r":"EP1","x":8,"y":0.72},{"p":"E","m":"Pitch","r":"EP1","x":10.9,"y":0.78},{"p":"E","m":"Pitch","r":"EP1","x":13.6,"y":0.77},{"p":"E","m":"Pitch","r":"EP1","x":14.0,"y":0.71},{"p":"E","m":"Pitch","r":"EP1","x":13.6,"y":0.66},{"p":"E","m":"Pitch","r":"EP1","x":15.8,"y":0.58},{"p":"E","m":"Pitch","r":"EP1","x":14.4,"y":0.49},{"p":"E","m":"Pitch","r":"EP1","x":9.0,"y":0.4},{"p":"E","m":"Pitch","r":"EP1","x":4.9,"y":0.37},{"p":"E","m":"Pitch","r":"EP1","x":2.2,"y":0.4},{"p":"E","m":"Pitch","r":"EP1","x":0.5,"y":0.45},
    {"p":"E","m":"Pitch","r":"EP2","x":0.3,"y":0.51},{"p":"E","m":"Pitch","r":"EP2","x":2,"y":0.57},{"p":"E","m":"Pitch","r":"EP2","x":5,"y":0.62},{"p":"E","m":"Pitch","r":"EP2","x":8.5,"y":0.69},{"p":"E","m":"Pitch","r":"EP2","x":11,"y":0.74},{"p":"E","m":"Pitch","r":"EP2","x":13.1,"y":0.73},{"p":"E","m":"Pitch","r":"EP2","x":13.3,"y":0.68},{"p":"E","m":"Pitch","r":"EP2","x":12.9,"y":0.64},{"p":"E","m":"Pitch","r":"EP2","x":14.8,"y":0.57},{"p":"E","m":"Pitch","r":"EP2","x":13.6,"y":0.5},{"p":"E","m":"Pitch","r":"EP2","x":9.2,"y":0.42},{"p":"E","m":"Pitch","r":"EP2","x":5.2,"y":0.39},{"p":"E","m":"Pitch","r":"EP2","x":2.6,"y":0.42},{"p":"E","m":"Pitch","r":"EP2","x":1.0,"y":0.46},
    {"p":"E","m":"Pitch","r":"EP3","x":1.0,"y":0.5},{"p":"E","m":"Pitch","r":"EP3","x":3,"y":0.55},{"p":"E","m":"Pitch","r":"EP3","x":6,"y":0.6},{"p":"E","m":"Pitch","r":"EP3","x":9,"y":0.665},{"p":"E","m":"Pitch","r":"EP3","x":11.1,"y":0.7},{"p":"E","m":"Pitch","r":"EP3","x":12.6,"y":0.69},{"p":"E","m":"Pitch","r":"EP3","x":12.6,"y":0.65},{"p":"E","m":"Pitch","r":"EP3","x":12.2,"y":0.62},{"p":"E","m":"Pitch","r":"EP3","x":13.8,"y":0.56},{"p":"E","m":"Pitch","r":"EP3","x":12.8,"y":0.5},{"p":"E","m":"Pitch","r":"EP3","x":9.4,"y":0.44},{"p":"E","m":"Pitch","r":"EP3","x":5.6,"y":0.41},{"p":"E","m":"Pitch","r":"EP3","x":3.0,"y":0.43},{"p":"E","m":"Pitch","r":"EP3","x":1.6,"y":0.47},
    {"p":"E","m":"Pitch","r":"EP4","x":1.8,"y":0.49},{"p":"E","m":"Pitch","r":"EP4","x":4,"y":0.535},{"p":"E","m":"Pitch","r":"EP4","x":7,"y":0.58},{"p":"E","m":"Pitch","r":"EP4","x":9.5,"y":0.64},{"p":"E","m":"Pitch","r":"EP4","x":11.2,"y":0.67},{"p":"E","m":"Pitch","r":"EP4","x":12.0,"y":0.66},{"p":"E","m":"Pitch","r":"EP4","x":11.8,"y":0.62},{"p":"E","m":"Pitch","r":"EP4","x":12.8,"y":0.56},{"p":"E","m":"Pitch","r":"EP4","x":12.0,"y":0.505},{"p":"E","m":"Pitch","r":"EP4","x":9.6,"y":0.46},{"p":"E","m":"Pitch","r":"EP4","x":6,"y":0.43},{"p":"E","m":"Pitch","r":"EP4","x":3.4,"y":0.44},{"p":"E","m":"Pitch","r":"EP4","x":2.3,"y":0.465},
    {"p":"E","m":"Pitch","r":"EP5","x":2.6,"y":0.485},{"p":"E","m":"Pitch","r":"EP5","x":5,"y":0.52},{"p":"E","m":"Pitch","r":"EP5","x":8,"y":0.56},{"p":"E","m":"Pitch","r":"EP5","x":10,"y":0.61},{"p":"E","m":"Pitch","r":"EP5","x":11.2,"y":0.64},{"p":"E","m":"Pitch","r":"EP5","x":11.5,"y":0.62},{"p":"E","m":"Pitch","r":"EP5","x":11.2,"y":0.595},{"p":"E","m":"Pitch","r":"EP5","x":11.9,"y":0.555},{"p":"E","m":"Pitch","r":"EP5","x":11.3,"y":0.51},{"p":"E","m":"Pitch","r":"EP5","x":9.6,"y":0.475},{"p":"E","m":"Pitch","r":"EP5","x":6.5,"y":0.45},{"p":"E","m":"Pitch","r":"EP5","x":3.8,"y":0.455},
    {"p":"E","m":"Pitch","r":"EP6","x":3.5,"y":0.48},{"p":"E","m":"Pitch","r":"EP6","x":6,"y":0.51},{"p":"E","m":"Pitch","r":"EP6","x":8.5,"y":0.545},{"p":"E","m":"Pitch","r":"EP6","x":10.3,"y":0.58},{"p":"E","m":"Pitch","r":"EP6","x":11.0,"y":0.56},{"p":"E","m":"Pitch","r":"EP6","x":10.6,"y":0.52},{"p":"E","m":"Pitch","r":"EP6","x":9.3,"y":0.49},{"p":"E","m":"Pitch","r":"EP6","x":6.8,"y":0.465},{"p":"E","m":"Pitch","r":"EP6","x":4.4,"y":0.465},
    {"p":"E","m":"Pitch","r":"EP7","x":4.5,"y":0.48},{"p":"E","m":"Pitch","r":"EP7","x":7,"y":0.505},{"p":"E","m":"Pitch","r":"EP7","x":9,"y":0.53},{"p":"E","m":"Pitch","r":"EP7","x":10.1,"y":0.545},{"p":"E","m":"Pitch","r":"EP7","x":10.0,"y":0.52},{"p":"E","m":"Pitch","r":"EP7","x":8.8,"y":0.5},{"p":"E","m":"Pitch","r":"EP7","x":6.8,"y":0.48},{"p":"E","m":"Pitch","r":"EP7","x":5,"y":0.475},
    {"p":"E","m":"Pitch","r":"EP8","x":6,"y":0.49},{"p":"E","m":"Pitch","r":"EP8","x":8,"y":0.51},{"p":"E","m":"Pitch","r":"EP8","x":9.3,"y":0.52},{"p":"E","m":"Pitch","r":"EP8","x":9,"y":0.5},{"p":"E","m":"Pitch","r":"EP8","x":7.5,"y":0.49},
    {"p":"E","m":"Pitch","r":"EP9","x":10.2,"y":0.68},{"p":"E","m":"Pitch","r":"EP9","x":10.7,"y":0.695},{"p":"E","m":"Pitch","r":"EP9","x":11.1,"y":0.68},{"p":"E","m":"Pitch","r":"EP9","x":10.6,"y":0.665},

    {"p":"E","m":"Roll","r":"ER1","x":10.5,"y":0.93},{"p":"E","m":"Roll","r":"ER1","x":11.6,"y":0.84},{"p":"E","m":"Roll","r":"ER1","x":11.7,"y":0.7},{"p":"E","m":"Roll","r":"ER1","x":10.5,"y":0.55},{"p":"E","m":"Roll","r":"ER1","x":8.5,"y":0.41},{"p":"E","m":"Roll","r":"ER1","x":5.7,"y":0.33},{"p":"E","m":"Roll","r":"ER1","x":3.5,"y":0.37},{"p":"E","m":"Roll","r":"ER1","x":2.6,"y":0.5},{"p":"E","m":"Roll","r":"ER1","x":3.0,"y":0.65},{"p":"E","m":"Roll","r":"ER1","x":5.0,"y":0.78},{"p":"E","m":"Roll","r":"ER1","x":7.0,"y":0.86},{"p":"E","m":"Roll","r":"ER1","x":8.8,"y":0.9},
    {"p":"E","m":"Roll","r":"ER2","x":10.3,"y":0.89},{"p":"E","m":"Roll","r":"ER2","x":11.2,"y":0.81},{"p":"E","m":"Roll","r":"ER2","x":11.2,"y":0.69},{"p":"E","m":"Roll","r":"ER2","x":10.1,"y":0.56},{"p":"E","m":"Roll","r":"ER2","x":8.3,"y":0.44},{"p":"E","m":"Roll","r":"ER2","x":5.7,"y":0.36},{"p":"E","m":"Roll","r":"ER2","x":3.8,"y":0.4},{"p":"E","m":"Roll","r":"ER2","x":3.0,"y":0.51},{"p":"E","m":"Roll","r":"ER2","x":3.4,"y":0.64},{"p":"E","m":"Roll","r":"ER2","x":5.2,"y":0.76},{"p":"E","m":"Roll","r":"ER2","x":7.2,"y":0.83},{"p":"E","m":"Roll","r":"ER2","x":8.9,"y":0.87},
    {"p":"E","m":"Roll","r":"ER3","x":10.1,"y":0.85},{"p":"E","m":"Roll","r":"ER3","x":10.8,"y":0.78},{"p":"E","m":"Roll","r":"ER3","x":10.8,"y":0.68},{"p":"E","m":"Roll","r":"ER3","x":9.8,"y":0.57},{"p":"E","m":"Roll","r":"ER3","x":8.1,"y":0.47},{"p":"E","m":"Roll","r":"ER3","x":5.7,"y":0.39},{"p":"E","m":"Roll","r":"ER3","x":4.1,"y":0.42},{"p":"E","m":"Roll","r":"ER3","x":3.4,"y":0.52},{"p":"E","m":"Roll","r":"ER3","x":3.8,"y":0.63},{"p":"E","m":"Roll","r":"ER3","x":5.4,"y":0.74},{"p":"E","m":"Roll","r":"ER3","x":7.4,"y":0.8},{"p":"E","m":"Roll","r":"ER3","x":9.0,"y":0.83},
    {"p":"E","m":"Roll","r":"ER4","x":9.9,"y":0.81},{"p":"E","m":"Roll","r":"ER4","x":10.5,"y":0.75},{"p":"E","m":"Roll","r":"ER4","x":10.4,"y":0.67},{"p":"E","m":"Roll","r":"ER4","x":9.5,"y":0.58},{"p":"E","m":"Roll","r":"ER4","x":7.9,"y":0.5},{"p":"E","m":"Roll","r":"ER4","x":5.7,"y":0.42},{"p":"E","m":"Roll","r":"ER4","x":4.4,"y":0.45},{"p":"E","m":"Roll","r":"ER4","x":3.8,"y":0.53},{"p":"E","m":"Roll","r":"ER4","x":4.2,"y":0.62},{"p":"E","m":"Roll","r":"ER4","x":5.6,"y":0.72},{"p":"E","m":"Roll","r":"ER4","x":7.6,"y":0.77},{"p":"E","m":"Roll","r":"ER4","x":9.1,"y":0.79},
    {"p":"E","m":"Roll","r":"ER5","x":9.7,"y":0.77},{"p":"E","m":"Roll","r":"ER5","x":10.2,"y":0.72},{"p":"E","m":"Roll","r":"ER5","x":10.1,"y":0.66},{"p":"E","m":"Roll","r":"ER5","x":9.2,"y":0.6},{"p":"E","m":"Roll","r":"ER5","x":7.7,"y":0.53},{"p":"E","m":"Roll","r":"ER5","x":5.7,"y":0.46},{"p":"E","m":"Roll","r":"ER5","x":4.7,"y":0.48},{"p":"E","m":"Roll","r":"ER5","x":4.2,"y":0.54},{"p":"E","m":"Roll","r":"ER5","x":4.6,"y":0.62},{"p":"E","m":"Roll","r":"ER5","x":5.8,"y":0.7},{"p":"E","m":"Roll","r":"ER5","x":7.8,"y":0.74},{"p":"E","m":"Roll","r":"ER5","x":9.1,"y":0.76},
    {"p":"E","m":"Roll","r":"ER6","x":9.5,"y":0.74},{"p":"E","m":"Roll","r":"ER6","x":9.9,"y":0.7},{"p":"E","m":"Roll","r":"ER6","x":9.7,"y":0.65},{"p":"E","m":"Roll","r":"ER6","x":8.8,"y":0.61},{"p":"E","m":"Roll","r":"ER6","x":7.4,"y":0.56},{"p":"E","m":"Roll","r":"ER6","x":5.7,"y":0.5},{"p":"E","m":"Roll","r":"ER6","x":5.0,"y":0.51},{"p":"E","m":"Roll","r":"ER6","x":4.7,"y":0.56},{"p":"E","m":"Roll","r":"ER6","x":5.0,"y":0.62},{"p":"E","m":"Roll","r":"ER6","x":6.0,"y":0.67},{"p":"E","m":"Roll","r":"ER6","x":8.0,"y":0.71},{"p":"E","m":"Roll","r":"ER6","x":9.1,"y":0.73},
    {"p":"E","m":"Roll","r":"ER7","x":9.0,"y":0.7},{"p":"E","m":"Roll","r":"ER7","x":9.5,"y":0.69},{"p":"E","m":"Roll","r":"ER7","x":9.4,"y":0.65},{"p":"E","m":"Roll","r":"ER7","x":8.6,"y":0.63},{"p":"E","m":"Roll","r":"ER7","x":8.2,"y":0.66},{"p":"E","m":"Roll","r":"ER7","x":8.5,"y":0.69},
    {"p":"E","m":"Roll","r":"ER8","x":5.2,"y":0.58},{"p":"E","m":"Roll","r":"ER8","x":5.5,"y":0.62},{"p":"E","m":"Roll","r":"ER8","x":6.0,"y":0.6},{"p":"E","m":"Roll","r":"ER8","x":5.9,"y":0.55},{"p":"E","m":"Roll","r":"ER8","x":5.4,"y":0.54},

    {"p":"E","m":"Yaw","r":"EY1","x":6.3,"y":1.0},{"p":"E","m":"Yaw","r":"EY1","x":7.5,"y":0.99},{"p":"E","m":"Yaw","r":"EY1","x":8.2,"y":0.93},{"p":"E","m":"Yaw","r":"EY1","x":8.0,"y":0.84},{"p":"E","m":"Yaw","r":"EY1","x":8.7,"y":0.76},{"p":"E","m":"Yaw","r":"EY1","x":10.1,"y":0.7},{"p":"E","m":"Yaw","r":"EY1","x":10.5,"y":0.6},{"p":"E","m":"Yaw","r":"EY1","x":10.1,"y":0.49},{"p":"E","m":"Yaw","r":"EY1","x":8.2,"y":0.41},{"p":"E","m":"Yaw","r":"EY1","x":5.5,"y":0.36},{"p":"E","m":"Yaw","r":"EY1","x":3.0,"y":0.38},{"p":"E","m":"Yaw","r":"EY1","x":1.5,"y":0.48},{"p":"E","m":"Yaw","r":"EY1","x":1.1,"y":0.6},{"p":"E","m":"Yaw","r":"EY1","x":1.4,"y":0.73},{"p":"E","m":"Yaw","r":"EY1","x":2.7,"y":0.84},{"p":"E","m":"Yaw","r":"EY1","x":4.5,"y":0.93},
    {"p":"E","m":"Yaw","r":"EY2","x":6.1,"y":0.94},{"p":"E","m":"Yaw","r":"EY2","x":7.2,"y":0.93},{"p":"E","m":"Yaw","r":"EY2","x":7.7,"y":0.87},{"p":"E","m":"Yaw","r":"EY2","x":7.5,"y":0.78},{"p":"E","m":"Yaw","r":"EY2","x":8.3,"y":0.72},{"p":"E","m":"Yaw","r":"EY2","x":9.6,"y":0.66},{"p":"E","m":"Yaw","r":"EY2","x":9.9,"y":0.57},{"p":"E","m":"Yaw","r":"EY2","x":9.4,"y":0.48},{"p":"E","m":"Yaw","r":"EY2","x":7.8,"y":0.43},{"p":"E","m":"Yaw","r":"EY2","x":5.4,"y":0.39},{"p":"E","m":"Yaw","r":"EY2","x":3.2,"y":0.41},{"p":"E","m":"Yaw","r":"EY2","x":1.9,"y":0.49},{"p":"E","m":"Yaw","r":"EY2","x":1.6,"y":0.6},{"p":"E","m":"Yaw","r":"EY2","x":1.9,"y":0.72},{"p":"E","m":"Yaw","r":"EY2","x":3.0,"y":0.81},{"p":"E","m":"Yaw","r":"EY2","x":4.6,"y":0.89},
    {"p":"E","m":"Yaw","r":"EY3","x":5.9,"y":0.9},{"p":"E","m":"Yaw","r":"EY3","x":6.9,"y":0.88},{"p":"E","m":"Yaw","r":"EY3","x":7.3,"y":0.82},{"p":"E","m":"Yaw","r":"EY3","x":7.2,"y":0.75},{"p":"E","m":"Yaw","r":"EY3","x":8.0,"y":0.69},{"p":"E","m":"Yaw","r":"EY3","x":9.2,"y":0.63},{"p":"E","m":"Yaw","r":"EY3","x":9.4,"y":0.55},{"p":"E","m":"Yaw","r":"EY3","x":8.9,"y":0.47},{"p":"E","m":"Yaw","r":"EY3","x":7.4,"y":0.44},{"p":"E","m":"Yaw","r":"EY3","x":5.3,"y":0.41},{"p":"E","m":"Yaw","r":"EY3","x":3.5,"y":0.43},{"p":"E","m":"Yaw","r":"EY3","x":2.3,"y":0.5},{"p":"E","m":"Yaw","r":"EY3","x":2.0,"y":0.6},{"p":"E","m":"Yaw","r":"EY3","x":2.3,"y":0.71},{"p":"E","m":"Yaw","r":"EY3","x":3.3,"y":0.79},{"p":"E","m":"Yaw","r":"EY3","x":4.7,"y":0.86},
    {"p":"E","m":"Yaw","r":"EY4","x":5.8,"y":0.86},{"p":"E","m":"Yaw","r":"EY4","x":6.7,"y":0.84},{"p":"E","m":"Yaw","r":"EY4","x":7.0,"y":0.78},{"p":"E","m":"Yaw","r":"EY4","x":6.9,"y":0.71},{"p":"E","m":"Yaw","r":"EY4","x":7.6,"y":0.66},{"p":"E","m":"Yaw","r":"EY4","x":8.7,"y":0.61},{"p":"E","m":"Yaw","r":"EY4","x":8.9,"y":0.54},{"p":"E","m":"Yaw","r":"EY4","x":8.4,"y":0.48},{"p":"E","m":"Yaw","r":"EY4","x":7.0,"y":0.46},{"p":"E","m":"Yaw","r":"EY4","x":5.2,"y":0.43},{"p":"E","m":"Yaw","r":"EY4","x":3.7,"y":0.45},{"p":"E","m":"Yaw","r":"EY4","x":2.7,"y":0.51},{"p":"E","m":"Yaw","r":"EY4","x":2.4,"y":0.6},{"p":"E","m":"Yaw","r":"EY4","x":2.6,"y":0.7},{"p":"E","m":"Yaw","r":"EY4","x":3.5,"y":0.77},{"p":"E","m":"Yaw","r":"EY4","x":4.8,"y":0.83},
    {"p":"E","m":"Yaw","r":"EY5","x":5.6,"y":0.82},{"p":"E","m":"Yaw","r":"EY5","x":6.4,"y":0.8},{"p":"E","m":"Yaw","r":"EY5","x":6.7,"y":0.74},{"p":"E","m":"Yaw","r":"EY5","x":6.6,"y":0.68},{"p":"E","m":"Yaw","r":"EY5","x":7.3,"y":0.64},{"p":"E","m":"Yaw","r":"EY5","x":8.3,"y":0.6},{"p":"E","m":"Yaw","r":"EY5","x":8.4,"y":0.54},{"p":"E","m":"Yaw","r":"EY5","x":7.9,"y":0.49},{"p":"E","m":"Yaw","r":"EY5","x":6.7,"y":0.47},{"p":"E","m":"Yaw","r":"EY5","x":5.1,"y":0.45},{"p":"E","m":"Yaw","r":"EY5","x":3.9,"y":0.47},{"p":"E","m":"Yaw","r":"EY5","x":3.0,"y":0.52},{"p":"E","m":"Yaw","r":"EY5","x":2.8,"y":0.6},{"p":"E","m":"Yaw","r":"EY5","x":3.0,"y":0.69},{"p":"E","m":"Yaw","r":"EY5","x":3.8,"y":0.75},{"p":"E","m":"Yaw","r":"EY5","x":4.8,"y":0.8},
    {"p":"E","m":"Yaw","r":"EY6","x":5.4,"y":0.78},{"p":"E","m":"Yaw","r":"EY6","x":6.1,"y":0.76},{"p":"E","m":"Yaw","r":"EY6","x":6.3,"y":0.7},{"p":"E","m":"Yaw","r":"EY6","x":6.2,"y":0.65},{"p":"E","m":"Yaw","r":"EY6","x":6.9,"y":0.62},{"p":"E","m":"Yaw","r":"EY6","x":7.8,"y":0.58},{"p":"E","m":"Yaw","r":"EY6","x":7.8,"y":0.53},{"p":"E","m":"Yaw","r":"EY6","x":7.3,"y":0.5},{"p":"E","m":"Yaw","r":"EY6","x":6.3,"y":0.49},{"p":"E","m":"Yaw","r":"EY6","x":5.0,"y":0.47},{"p":"E","m":"Yaw","r":"EY6","x":4.1,"y":0.49},{"p":"E","m":"Yaw","r":"EY6","x":3.4,"y":0.54},{"p":"E","m":"Yaw","r":"EY6","x":3.2,"y":0.6},{"p":"E","m":"Yaw","r":"EY6","x":3.4,"y":0.68},{"p":"E","m":"Yaw","r":"EY6","x":4.0,"y":0.73},{"p":"E","m":"Yaw","r":"EY6","x":4.8,"y":0.77},
    {"p":"E","m":"Yaw","r":"EY7","x":5.2,"y":0.74},{"p":"E","m":"Yaw","r":"EY7","x":5.8,"y":0.72},{"p":"E","m":"Yaw","r":"EY7","x":5.9,"y":0.66},{"p":"E","m":"Yaw","r":"EY7","x":5.7,"y":0.6},{"p":"E","m":"Yaw","r":"EY7","x":6.2,"y":0.56},{"p":"E","m":"Yaw","r":"EY7","x":6.5,"y":0.52},{"p":"E","m":"Yaw","r":"EY7","x":5.8,"y":0.5},{"p":"E","m":"Yaw","r":"EY7","x":4.9,"y":0.5},{"p":"E","m":"Yaw","r":"EY7","x":4.2,"y":0.52},{"p":"E","m":"Yaw","r":"EY7","x":3.7,"y":0.56},{"p":"E","m":"Yaw","r":"EY7","x":3.5,"y":0.62},{"p":"E","m":"Yaw","r":"EY7","x":3.7,"y":0.68},{"p":"E","m":"Yaw","r":"EY7","x":4.3,"y":0.72},
    {"p":"E","m":"Yaw","r":"EY8","x":4.9,"y":0.71},{"p":"E","m":"Yaw","r":"EY8","x":5.4,"y":0.68},{"p":"E","m":"Yaw","r":"EY8","x":5.4,"y":0.62},{"p":"E","m":"Yaw","r":"EY8","x":5.2,"y":0.57},{"p":"E","m":"Yaw","r":"EY8","x":4.8,"y":0.54},{"p":"E","m":"Yaw","r":"EY8","x":4.3,"y":0.55},{"p":"E","m":"Yaw","r":"EY8","x":3.9,"y":0.59},{"p":"E","m":"Yaw","r":"EY8","x":3.8,"y":0.64},{"p":"E","m":"Yaw","r":"EY8","x":4.0,"y":0.69},{"p":"E","m":"Yaw","r":"EY8","x":4.4,"y":0.71},
    {"p":"E","m":"Yaw","r":"EY9","x":4.6,"y":0.68},{"p":"E","m":"Yaw","r":"EY9","x":5.0,"y":0.65},{"p":"E","m":"Yaw","r":"EY9","x":5.0,"y":0.6},{"p":"E","m":"Yaw","r":"EY9","x":4.7,"y":0.57},{"p":"E","m":"Yaw","r":"EY9","x":4.3,"y":0.58},{"p":"E","m":"Yaw","r":"EY9","x":4.0,"y":0.62},{"p":"E","m":"Yaw","r":"EY9","x":4.1,"y":0.66},
    {"p":"E","m":"Yaw","r":"EY10","x":4.4,"y":0.67},{"p":"E","m":"Yaw","r":"EY10","x":4.6,"y":0.64},{"p":"E","m":"Yaw","r":"EY10","x":4.5,"y":0.6},{"p":"E","m":"Yaw","r":"EY10","x":4.2,"y":0.61},{"p":"E","m":"Yaw","r":"EY10","x":4.15,"y":0.645}
  ]
},
"spacing": 0,
"bounds": "flush",
"vconcat": [
  {"width": 1186, "height": 3, "data": {"values": []}, "mark": "point", "view": {"fill": "#1d5ba6", "stroke": null}},
  {"spacing": 0, "bounds": "flush", "hconcat": [
    {"width": 8, "height": 1, "data": {"values": []}, "mark": "point", "view": {"stroke": null}},
    {"width": 3, "height": 665, "data": {"values": []}, "mark": "point", "view": {"fill": "#1d5ba6", "stroke": null}},
    {"spacing": 0, "bounds": "flush", "vconcat": [
      {"width": 1, "height": 34, "data": {"values": []}, "mark": "point", "view": {"stroke": null}},
      {"spacing": 0, "bounds": "flush", "hconcat": [
        {"width": 79, "height": 1, "data": {"values": []}, "mark": "point", "view": {"stroke": null}},
        {"spacing": 147, "bounds": "flush", "resolve": {"scale": {"color": "independent", "strokeDash": "independent"}}, "hconcat": [
          {"width": 189, "height": 179, "title": {"text": "A", "dx": -55, "dy": 12},
           "layer": [
            {"data": {"name": "ts"}, "transform": [{"filter": "datum.p === 'A' && datum.k === 'TE'"}], "mark": {"type": "line", "strokeWidth": 1.3},
             "encoding": {
              "x": {"field": "t", "type": "quantitative", "scale": {"domain": [-0.8, 18.4], "nice": false, "zero": false}, "axis": {"values": [0, 10], "title": "Time (s)"}},
              "y": {"field": "v", "type": "quantitative", "scale": {"domain": [0, 1.25], "nice": false}, "axis": {"values": [0, 0.5, 1], "format": ".1f", "title": "TE (º)"}},
              "color": {"field": "s", "type": "nominal", "scale": {"domain": ["1","2","3","4"], "range": ["#0000f8","#f2102e","#38f09a","#aaaaaa"]}, "legend": null},
              "strokeDash": {"field": "k", "type": "nominal", "scale": {"domain": ["TE","SRE"], "range": [[5,3],[1,0]]}, "legend": null}}},
            {"data": {"name": "ts"}, "transform": [{"filter": "datum.p === 'A' && datum.k === 'SRE'"}], "mark": {"type": "line", "strokeWidth": 1.3},
             "encoding": {
              "x": {"field": "t", "type": "quantitative", "scale": {"domain": [-0.8, 18.4], "nice": false, "zero": false}, "axis": {"values": [0, 10], "title": "Time (s)"}},
              "y": {"field": "v", "type": "quantitative", "scale": {"domain": [0, 1.25], "nice": false}, "axis": {"orient": "right", "values": [0, 0.5, 1], "format": ".1f", "title": "SRE (mm)", "titleAngle": 270, "titleBaseline": "top", "titlePadding": 3}},
              "color": {"field": "s", "type": "nominal", "scale": {"domain": ["1","2","3","4"], "range": ["#0000f8","#f2102e","#38f09a","#aaaaaa"]}, "legend": null},
              "strokeDash": {"field": "k", "type": "nominal", "scale": {"domain": ["TE","SRE"], "range": [[5,3],[1,0]]}, "legend": null}}}
           ],
           "resolve": {"scale": {"y": "independent"}}},
          {"width": 190, "height": 179, "title": {"text": "B", "dx": -52, "dy": 12},
           "layer": [
            {"data": {"name": "ts"}, "transform": [{"filter": "datum.p === 'B' && datum.k === 'TE'"}], "mark": {"type": "line", "strokeWidth": 1.3},
             "encoding": {
              "x": {"field": "t", "type": "quantitative", "scale": {"domain": [-1.9, 38.9], "nice": false, "zero": false}, "axis": {"values": [0, 20], "title": "Time (s)"}},
              "y": {"field": "v", "type": "quantitative", "scale": {"domain": [0, 1.25], "nice": false}, "axis": {"values": [0, 0.5, 1], "format": ".1f", "title": "TE (º)"}},
              "color": {"field": "s", "type": "nominal", "scale": {"domain": ["1","2","3","4"], "range": ["#0000f8","#f2102e","#38f09a","#aaaaaa"]}, "legend": null},
              "strokeDash": {"field": "k", "type": "nominal", "scale": {"domain": ["TE","SRE"], "range": [[5,3],[1,0]]}, "legend": null}}},
            {"data": {"name": "ts"}, "transform": [{"filter": "datum.p === 'B' && datum.k === 'SRE'"}], "mark": {"type": "line", "strokeWidth": 1.3},
             "encoding": {
              "x": {"field": "t", "type": "quantitative", "scale": {"domain": [-1.9, 38.9], "nice": false, "zero": false}, "axis": {"values": [0, 20], "title": "Time (s)"}},
              "y": {"field": "v", "type": "quantitative", "scale": {"domain": [0, 1.25], "nice": false}, "axis": {"orient": "right", "values": [0, 0.5, 1], "format": ".1f", "title": "SRE (mm)", "titleAngle": 270, "titleBaseline": "top", "titlePadding": 3}},
              "color": {"field": "s", "type": "nominal", "scale": {"domain": ["1","2","3","4"], "range": ["#0000f8","#f2102e","#38f09a","#aaaaaa"]}, "legend": null},
              "strokeDash": {"field": "k", "type": "nominal", "scale": {"domain": ["TE","SRE"], "range": [[5,3],[1,0]]}, "legend": null}}}
           ],
           "resolve": {"scale": {"y": "independent"}}},
          {"width": 190, "height": 179, "title": {"text": "C", "dx": -60, "dy": 12},
           "layer": [
            {"data": {"name": "ts"}, "transform": [{"filter": "datum.p === 'C' && datum.k === 'TE'"}], "mark": {"type": "line", "strokeWidth": 1.3},
             "encoding": {
              "x": {"field": "t", "type": "quantitative", "scale": {"domain": [-1.7, 38.9], "nice": false, "zero": false}, "axis": {"values": [0, 25], "title": "Time (s)"}},
              "y": {"field": "v", "type": "quantitative", "scale": {"domain": [0, 1.25], "nice": false}, "axis": {"values": [0, 0.5, 1], "format": ".1f", "title": "TE (º)"}},
              "color": {"field": "s", "type": "nominal", "scale": {"domain": ["1","2","3","4"], "range": ["#0000f8","#f2102e","#38f09a","#aaaaaa"]},
                "legend": {"title": "Specimen", "orient": "none", "legendX": 300, "legendY": 2, "direction": "vertical", "symbolType": "circle", "symbolSize": 484, "symbolStrokeWidth": 0, "symbolOffset": 6, "labelOffset": 33, "rowPadding": 11, "titlePadding": 10,
                  "encode": {"symbols": {"update": {"fill": {"signal": "datum.value === '1' ? '#0000f8' : datum.value === '2' ? '#f2102e' : datum.value === '3' ? '#38f09a' : '#aaaaaa'"}, "fillOpacity": {"value": 1}, "stroke": {"value": "transparent"}, "strokeWidth": {"value": 0}}}}}},
              "strokeDash": {"field": "k", "type": "nominal", "scale": {"domain": ["TE","SRE"], "range": [[5,3],[1,0]]},
                "legend": {"title": null, "orient": "none", "legendX": 300, "legendY": 150, "direction": "vertical", "symbolType": "stroke", "symbolSize": 2025, "symbolStrokeColor": "#111111", "symbolStrokeWidth": 1.5, "labelOffset": 19, "rowPadding": -1}}}},
            {"data": {"name": "ts"}, "transform": [{"filter": "datum.p === 'C' && datum.k === 'SRE'"}], "mark": {"type": "line", "strokeWidth": 1.3},
             "encoding": {
              "x": {"field": "t", "type": "quantitative", "scale": {"domain": [-1.7, 38.9], "nice": false, "zero": false}, "axis": {"values": [0, 25], "title": "Time (s)"}},
              "y": {"field": "v", "type": "quantitative", "scale": {"domain": [0, 1.25], "nice": false}, "axis": {"orient": "right", "values": [0, 0.5, 1], "format": ".1f", "title": "SRE (mm)", "titleAngle": 270, "titleBaseline": "top", "titlePadding": 3}},
              "color": {"field": "s", "type": "nominal", "scale": {"domain": ["1","2","3","4"], "range": ["#0000f8","#f2102e","#38f09a","#aaaaaa"]},
                "legend": {"title": "Specimen", "orient": "none", "legendX": 300, "legendY": 2, "direction": "vertical", "symbolType": "circle", "symbolSize": 484, "symbolStrokeWidth": 0, "symbolOffset": 6, "labelOffset": 33, "rowPadding": 11, "titlePadding": 10,
                  "encode": {"symbols": {"update": {"fill": {"signal": "datum.value === '1' ? '#0000f8' : datum.value === '2' ? '#f2102e' : datum.value === '3' ? '#38f09a' : '#aaaaaa'"}, "fillOpacity": {"value": 1}, "stroke": {"value": "transparent"}, "strokeWidth": {"value": 0}}}}}},
              "strokeDash": {"field": "k", "type": "nominal", "scale": {"domain": ["TE","SRE"], "range": [[5,3],[1,0]]},
                "legend": {"title": null, "orient": "none", "legendX": 300, "legendY": 150, "direction": "vertical", "symbolType": "stroke", "symbolSize": 2025, "symbolStrokeColor": "#111111", "symbolStrokeWidth": 1.5, "labelOffset": 19, "rowPadding": -1}}}}
           ],
           "resolve": {"scale": {"y": "independent"}}}
        ]}
      ]},
      {"width": 1, "height": 279, "data": {"values": []}, "mark": "point", "view": {"stroke": null}},
      {"spacing": 0, "bounds": "flush", "hconcat": [
        {"width": 249, "height": 1, "data": {"values": []}, "mark": "point", "view": {"stroke": null}},
        {"spacing": 363, "bounds": "flush", "resolve": {"scale": {"color": "independent"}}, "hconcat": [
          {"spacing": 0, "bounds": "flush", "vconcat": [
            {"width": 1, "height": 3, "data": {"values": []}, "mark": "point", "view": {"stroke": null}},
            {"width": 255, "height": 177, "title": {"text": "D", "dx": -75, "dy": 11},
             "data": {"name": "ct"},
             "layer": [
              {"transform": [{"filter": "datum.p === 'D' && datum.m !== 'Yaw'"}], "mark": {"type": "line", "interpolate": "cardinal-closed", "strokeWidth": 1.3},
               "encoding": {
                "x": {"field": "x", "type": "quantitative", "scale": {"domain": [-3.16, 18.6], "nice": false, "zero": false}, "axis": {"values": [0, 10], "title": "Linear speed (cm/s)"}},
                "y": {"field": "y", "type": "quantitative", "scale": {"domain": [-0.2, 0.755], "nice": false, "zero": false}, "axis": {"values": [0, 0.25, 0.5, 0.75], "format": ".2f", "title": "TE (º)"}},
                "color": {"field": "m", "type": "nominal", "scale": {"domain": ["Pitch","Roll","Yaw"], "range": ["#35e8b6","#d6ef25","#f0184a"]}, "legend": null},
                "detail": {"field": "r"},
                "order": {"value": null}}},
              {"transform": [{"filter": "datum.p === 'D' && datum.m === 'Yaw'"}], "mark": {"type": "line", "interpolate": "cardinal-closed", "strokeWidth": 1.8},
               "encoding": {
                "x": {"field": "x", "type": "quantitative", "scale": {"domain": [-3.16, 18.6], "nice": false, "zero": false}, "axis": {"values": [0, 10], "title": "Linear speed (cm/s)"}},
                "y": {"field": "y", "type": "quantitative", "scale": {"domain": [-0.2, 0.755], "nice": false, "zero": false}, "axis": {"values": [0, 0.25, 0.5, 0.75], "format": ".2f", "title": "TE (º)"}},
                "color": {"field": "m", "type": "nominal", "scale": {"domain": ["Pitch","Roll","Yaw"], "range": ["#35e8b6","#d6ef25","#f0184a"]}, "legend": null},
                "detail": {"field": "r"},
                "order": {"value": null}}}
             ]}
          ]},
          {"width": 265, "height": 182, "title": {"text": "E", "dx": -70, "dy": 7},
           "data": {"name": "ct"},
           "layer": [
            {"transform": [{"filter": "datum.p === 'E' && datum.m !== 'Yaw'"}], "mark": {"type": "line", "interpolate": "cardinal-closed", "strokeWidth": 1.3},
             "encoding": {
              "x": {"field": "x", "type": "quantitative", "scale": {"domain": [-3.03, 18.7], "nice": false, "zero": false}, "axis": {"values": [0, 10], "title": "Linear speed (cm/s)"}},
              "y": {"field": "y", "type": "quantitative", "scale": {"domain": [0.245, 1.115], "nice": false, "zero": false}, "axis": {"values": [0.25, 0.5, 0.75, 1], "format": ".2f", "title": "SRE (mm)"}},
              "color": {"field": "m", "type": "nominal", "scale": {"domain": ["Pitch","Roll","Yaw"], "range": ["#35e8b6","#d6ef25","#f0184a"]},
                "legend": {"title": "Motion", "orient": "none", "legendX": 290, "legendY": 29, "direction": "vertical", "symbolType": "stroke", "symbolSize": 1764, "symbolStrokeWidth": 2, "labelOffset": 17, "rowPadding": -6, "titleAnchor": "middle", "titleFontSize": 20, "labelFontSize": 20, "titlePadding": 0}},
              "detail": {"field": "r"},
              "order": {"value": null}}},
            {"transform": [{"filter": "datum.p === 'E' && datum.m === 'Yaw'"}], "mark": {"type": "line", "interpolate": "cardinal-closed", "strokeWidth": 1.8},
             "encoding": {
              "x": {"field": "x", "type": "quantitative", "scale": {"domain": [-3.03, 18.7], "nice": false, "zero": false}, "axis": {"values": [0, 10], "title": "Linear speed (cm/s)"}},
              "y": {"field": "y", "type": "quantitative", "scale": {"domain": [0.245, 1.115], "nice": false, "zero": false}, "axis": {"values": [0.25, 0.5, 0.75, 1], "format": ".2f", "title": "SRE (mm)"}},
              "color": {"field": "m", "type": "nominal", "scale": {"domain": ["Pitch","Roll","Yaw"], "range": ["#35e8b6","#d6ef25","#f0184a"]},
                "legend": {"title": "Motion", "orient": "none", "legendX": 290, "legendY": 29, "direction": "vertical", "symbolType": "stroke", "symbolSize": 1764, "symbolStrokeWidth": 2, "labelOffset": 17, "rowPadding": -6, "titleAnchor": "middle", "titleFontSize": 20, "labelFontSize": 20, "titlePadding": 0}},
              "detail": {"field": "r"},
              "order": {"value": null}}}
           ]}
        ]}
      ]},
      {"width": 1, "height": 249, "data": {"values": []}, "mark": "point", "view": {"stroke": null}},
      {"width": 1175, "height": 2, "data": {"values": []}, "mark": "point", "view": {"fill": "#1d5ba6", "stroke": null}},
      {"width": 1175, "height": 101, "view": {"fill": "#dcdcdc", "stroke": null},
       "data": {"values": [
         {"ln": 1, "kind": "head", "text": "FIGURE 4."},
         {"ln": 1, "kind": "body", "text": "TE and surface error during real-time robot control. TE and SRE for all specimens, during A, the pitch head motion, B, the roll head"},
         {"ln": 2, "kind": "body", "text": "motion, and C, the yaw head motion. D, TE for all specimens relative to head velocity during the pitch, roll, and yaw and for E, SRE. SRE, surface error;"},
         {"ln": 3, "kind": "body", "text": "TE, trajectory error."}
       ]},
       "layer": [
        {"transform": [{"filter": "datum.kind === 'head'"}], "mark": {"type": "text", "align": "left", "baseline": "alphabetic", "font": "Liberation Sans", "fontWeight": "bold", "fontSize": 22, "color": "#1d5ba6"},
         "encoding": {"x": {"value": 16}, "y": {"field": "ln", "type": "quantitative", "scale": {"domain": [1, 3], "range": [29, 81]}, "axis": null}, "text": {"field": "text"}}},
        {"transform": [{"filter": "datum.kind === 'body' && datum.ln === 1"}], "mark": {"type": "text", "align": "left", "baseline": "alphabetic", "font": "Liberation Serif", "fontStyle": "italic", "fontSize": 18.7, "color": "#222222", "limit": 1035},
         "encoding": {"x": {"value": 136}, "y": {"field": "ln", "type": "quantitative", "scale": {"domain": [1, 3], "range": [29, 81]}, "axis": null}, "text": {"field": "text"}}},
        {"transform": [{"filter": "datum.kind === 'body' && datum.ln > 1"}], "mark": {"type": "text", "align": "left", "baseline": "alphabetic", "font": "Liberation Serif", "fontStyle": "italic", "fontSize": 18.7, "color": "#222222", "limit": 1160},
         "encoding": {"x": {"value": 16}, "y": {"field": "ln", "type": "quantitative", "scale": {"domain": [1, 3], "range": [29, 81]}, "axis": null}, "text": {"field": "text"}}}
       ]}
    ]}
  ]}
]
}
